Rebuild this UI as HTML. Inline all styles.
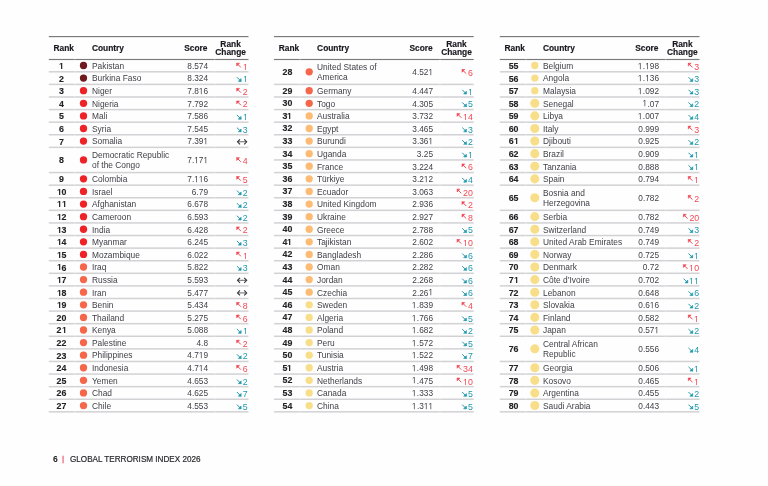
<!DOCTYPE html>
<html><head><meta charset="utf-8"><style>
*{margin:0;padding:0;box-sizing:border-box}
html,body{width:768px;height:486px;overflow:hidden;background:#fefefe}
body{position:relative;font-family:"Liberation Sans",sans-serif;filter:blur(0.35px)}
div,svg.ov{position:absolute}
svg.o1{display:inline-block;width:0.5562em;height:0.688em;vertical-align:baseline;overflow:visible}
.rule{}
.h{font-weight:bold;color:#18181f;white-space:nowrap;-webkit-text-stroke:0.15px #18181f}
.rk{font-weight:bold;color:#222226;white-space:nowrap;-webkit-text-stroke:0.12px #222226}
.t{color:#404048;white-space:nowrap}
.n{white-space:nowrap}
.ov{left:0;top:0}
.fn{font-weight:bold;color:#222;white-space:nowrap}
.ft{color:#2a2a2e;white-space:nowrap;font-weight:normal;-webkit-text-stroke:0.2px #2a2a2e}
</style></head><body>
<svg class="ov" width="768" height="486" viewBox="0 0 768 486"><rect x="48.8" y="36.02" width="199.7" height="1.15" fill="#787878"/><rect x="48.8" y="58.92" width="199.7" height="1.15" fill="#7a7a7a"/><rect x="48.8" y="71.05" width="199.7" height="1.5" fill="#d2d2d5"/><circle cx="83.5" cy="65.51" r="3.65" fill="#6e1b20"/><path d="M236.71 63.21 L240.91 67.41" stroke="#f24854" stroke-width="1" fill="none"/><path d="M239.51 63.21 L236.71 63.21 L236.71 66.01Z" stroke="#f24854" stroke-width="0.6" fill="#f24854" stroke-linejoin="miter"/><rect x="48.8" y="83.65" width="199.7" height="1.5" fill="#d2d2d5"/><circle cx="83.5" cy="78.1" r="3.65" fill="#6e1b20"/><path d="M236.91 77.2 L241.11 81.4" stroke="#1f98ad" stroke-width="1" fill="none"/><path d="M238.31 81.4 L241.11 81.4 L241.11 78.6Z" stroke="#1f98ad" stroke-width="0.6" fill="#1f98ad" stroke-linejoin="miter"/><rect x="48.8" y="96.24" width="199.7" height="1.5" fill="#d2d2d5"/><circle cx="83.5" cy="90.69" r="3.65" fill="#ee2227"/><path d="M236.71 88.39 L240.91 92.59" stroke="#f24854" stroke-width="1" fill="none"/><path d="M239.51 88.39 L236.71 88.39 L236.71 91.19Z" stroke="#f24854" stroke-width="0.6" fill="#f24854" stroke-linejoin="miter"/><rect x="48.8" y="108.84" width="199.7" height="1.5" fill="#d2d2d5"/><circle cx="83.5" cy="103.29" r="3.65" fill="#ee2227"/><path d="M236.71 100.99 L240.91 105.19" stroke="#f24854" stroke-width="1" fill="none"/><path d="M239.51 100.99 L236.71 100.99 L236.71 103.79Z" stroke="#f24854" stroke-width="0.6" fill="#f24854" stroke-linejoin="miter"/><rect x="48.8" y="121.43" width="199.7" height="1.5" fill="#d2d2d5"/><circle cx="83.5" cy="115.88" r="3.65" fill="#ee2227"/><path d="M236.91 114.98 L241.11 119.18" stroke="#1f98ad" stroke-width="1" fill="none"/><path d="M238.31 119.18 L241.11 119.18 L241.11 116.38Z" stroke="#1f98ad" stroke-width="0.6" fill="#1f98ad" stroke-linejoin="miter"/><rect x="48.8" y="134.02" width="199.7" height="1.5" fill="#d2d2d5"/><circle cx="83.5" cy="128.48" r="3.65" fill="#ee2227"/><path d="M236.91 127.58 L241.11 131.78" stroke="#1f98ad" stroke-width="1" fill="none"/><path d="M238.31 131.78 L241.11 131.78 L241.11 128.98Z" stroke="#1f98ad" stroke-width="0.6" fill="#1f98ad" stroke-linejoin="miter"/><rect x="48.8" y="146.62" width="199.7" height="1.5" fill="#d2d2d5"/><circle cx="83.5" cy="141.07" r="3.65" fill="#ee2227"/><path d="M237.9 141.77 H246.3" stroke="#55555c" stroke-width="0.9"/><path d="M240 139.27 L237.5 141.77 L240 144.27 M244.2 139.27 L246.7 141.77 L244.2 144.27" stroke="#2e2e36" stroke-width="1.05" fill="none"/><rect x="48.8" y="171.81" width="199.7" height="1.5" fill="#d2d2d5"/><circle cx="83.5" cy="159.96" r="3.65" fill="#ee2227"/><path d="M236.71 157.66 L240.91 161.86" stroke="#f24854" stroke-width="1" fill="none"/><path d="M239.51 157.66 L236.71 157.66 L236.71 160.46Z" stroke="#f24854" stroke-width="0.6" fill="#f24854" stroke-linejoin="miter"/><rect x="48.8" y="184.4" width="199.7" height="1.5" fill="#d2d2d5"/><circle cx="83.5" cy="178.85" r="3.65" fill="#ee2227"/><path d="M236.71 176.55 L240.91 180.75" stroke="#f24854" stroke-width="1" fill="none"/><path d="M239.51 176.55 L236.71 176.55 L236.71 179.35Z" stroke="#f24854" stroke-width="0.6" fill="#f24854" stroke-linejoin="miter"/><rect x="48.8" y="196.99" width="199.7" height="1.5" fill="#d2d2d5"/><circle cx="83.5" cy="191.45" r="3.65" fill="#ee2227"/><path d="M236.91 190.55 L241.11 194.75" stroke="#1f98ad" stroke-width="1" fill="none"/><path d="M238.31 194.75 L241.11 194.75 L241.11 191.95Z" stroke="#1f98ad" stroke-width="0.6" fill="#1f98ad" stroke-linejoin="miter"/><rect x="48.8" y="209.59" width="199.7" height="1.5" fill="#d2d2d5"/><circle cx="83.5" cy="204.04" r="3.65" fill="#ee2227"/><path d="M236.91 203.14 L241.11 207.34" stroke="#1f98ad" stroke-width="1" fill="none"/><path d="M238.31 207.34 L241.11 207.34 L241.11 204.54Z" stroke="#1f98ad" stroke-width="0.6" fill="#1f98ad" stroke-linejoin="miter"/><rect x="48.8" y="222.18" width="199.7" height="1.5" fill="#d2d2d5"/><circle cx="83.5" cy="216.63" r="3.65" fill="#ee2227"/><path d="M236.91 215.73 L241.11 219.93" stroke="#1f98ad" stroke-width="1" fill="none"/><path d="M238.31 219.93 L241.11 219.93 L241.11 217.13Z" stroke="#1f98ad" stroke-width="0.6" fill="#1f98ad" stroke-linejoin="miter"/><rect x="48.8" y="234.78" width="199.7" height="1.5" fill="#d2d2d5"/><circle cx="83.5" cy="229.23" r="3.65" fill="#ee2227"/><path d="M236.71 226.93 L240.91 231.13" stroke="#f24854" stroke-width="1" fill="none"/><path d="M239.51 226.93 L236.71 226.93 L236.71 229.73Z" stroke="#f24854" stroke-width="0.6" fill="#f24854" stroke-linejoin="miter"/><rect x="48.8" y="247.37" width="199.7" height="1.5" fill="#d2d2d5"/><circle cx="83.5" cy="241.82" r="3.65" fill="#ee2227"/><path d="M236.91 240.92 L241.11 245.12" stroke="#1f98ad" stroke-width="1" fill="none"/><path d="M238.31 245.12 L241.11 245.12 L241.11 242.32Z" stroke="#1f98ad" stroke-width="0.6" fill="#1f98ad" stroke-linejoin="miter"/><rect x="48.8" y="259.96" width="199.7" height="1.5" fill="#d2d2d5"/><circle cx="83.5" cy="254.42" r="3.65" fill="#ee2227"/><path d="M236.71 252.12 L240.91 256.32" stroke="#f24854" stroke-width="1" fill="none"/><path d="M239.51 252.12 L236.71 252.12 L236.71 254.92Z" stroke="#f24854" stroke-width="0.6" fill="#f24854" stroke-linejoin="miter"/><rect x="48.8" y="272.56" width="199.7" height="1.5" fill="#d2d2d5"/><circle cx="83.5" cy="267.01" r="3.65" fill="#f5664b"/><path d="M236.91 266.11 L241.11 270.31" stroke="#1f98ad" stroke-width="1" fill="none"/><path d="M238.31 270.31 L241.11 270.31 L241.11 267.51Z" stroke="#1f98ad" stroke-width="0.6" fill="#1f98ad" stroke-linejoin="miter"/><rect x="48.8" y="285.15" width="199.7" height="1.5" fill="#d2d2d5"/><circle cx="83.5" cy="279.6" r="3.65" fill="#f5664b"/><path d="M237.9 280.3 H246.3" stroke="#55555c" stroke-width="0.9"/><path d="M240 277.8 L237.5 280.3 L240 282.8 M244.2 277.8 L246.7 280.3 L244.2 282.8" stroke="#2e2e36" stroke-width="1.05" fill="none"/><rect x="48.8" y="297.75" width="199.7" height="1.5" fill="#d2d2d5"/><circle cx="83.5" cy="292.2" r="3.65" fill="#f5664b"/><path d="M237.9 292.9 H246.3" stroke="#55555c" stroke-width="0.9"/><path d="M240 290.4 L237.5 292.9 L240 295.4 M244.2 290.4 L246.7 292.9 L244.2 295.4" stroke="#2e2e36" stroke-width="1.05" fill="none"/><rect x="48.8" y="310.34" width="199.7" height="1.5" fill="#d2d2d5"/><circle cx="83.5" cy="304.79" r="3.65" fill="#f5664b"/><path d="M236.71 302.49 L240.91 306.69" stroke="#f24854" stroke-width="1" fill="none"/><path d="M239.51 302.49 L236.71 302.49 L236.71 305.29Z" stroke="#f24854" stroke-width="0.6" fill="#f24854" stroke-linejoin="miter"/><rect x="48.8" y="322.93" width="199.7" height="1.5" fill="#d2d2d5"/><circle cx="83.5" cy="317.39" r="3.65" fill="#f5664b"/><path d="M236.71 315.09 L240.91 319.29" stroke="#f24854" stroke-width="1" fill="none"/><path d="M239.51 315.09 L236.71 315.09 L236.71 317.89Z" stroke="#f24854" stroke-width="0.6" fill="#f24854" stroke-linejoin="miter"/><rect x="48.8" y="335.53" width="199.7" height="1.5" fill="#d2d2d5"/><circle cx="83.5" cy="329.98" r="3.65" fill="#f5664b"/><path d="M236.91 329.08 L241.11 333.28" stroke="#1f98ad" stroke-width="1" fill="none"/><path d="M238.31 333.28 L241.11 333.28 L241.11 330.48Z" stroke="#1f98ad" stroke-width="0.6" fill="#1f98ad" stroke-linejoin="miter"/><rect x="48.8" y="348.12" width="199.7" height="1.5" fill="#d2d2d5"/><circle cx="83.5" cy="342.57" r="3.65" fill="#f5664b"/><path d="M236.71 340.27 L240.91 344.47" stroke="#f24854" stroke-width="1" fill="none"/><path d="M239.51 340.27 L236.71 340.27 L236.71 343.07Z" stroke="#f24854" stroke-width="0.6" fill="#f24854" stroke-linejoin="miter"/><rect x="48.8" y="360.72" width="199.7" height="1.5" fill="#d2d2d5"/><circle cx="83.5" cy="355.17" r="3.65" fill="#f5664b"/><path d="M236.91 354.27 L241.11 358.47" stroke="#1f98ad" stroke-width="1" fill="none"/><path d="M238.31 358.47 L241.11 358.47 L241.11 355.67Z" stroke="#1f98ad" stroke-width="0.6" fill="#1f98ad" stroke-linejoin="miter"/><rect x="48.8" y="373.31" width="199.7" height="1.5" fill="#d2d2d5"/><circle cx="83.5" cy="367.76" r="3.65" fill="#f5664b"/><path d="M236.71 365.46 L240.91 369.66" stroke="#f24854" stroke-width="1" fill="none"/><path d="M239.51 365.46 L236.71 365.46 L236.71 368.26Z" stroke="#f24854" stroke-width="0.6" fill="#f24854" stroke-linejoin="miter"/><rect x="48.8" y="385.9" width="199.7" height="1.5" fill="#d2d2d5"/><circle cx="83.5" cy="380.36" r="3.65" fill="#f5664b"/><path d="M236.91 379.46 L241.11 383.66" stroke="#1f98ad" stroke-width="1" fill="none"/><path d="M238.31 383.66 L241.11 383.66 L241.11 380.86Z" stroke="#1f98ad" stroke-width="0.6" fill="#1f98ad" stroke-linejoin="miter"/><rect x="48.8" y="398.5" width="199.7" height="1.5" fill="#d2d2d5"/><circle cx="83.5" cy="392.95" r="3.65" fill="#f5664b"/><path d="M236.91 392.05 L241.11 396.25" stroke="#1f98ad" stroke-width="1" fill="none"/><path d="M238.31 396.25 L241.11 396.25 L241.11 393.45Z" stroke="#1f98ad" stroke-width="0.6" fill="#1f98ad" stroke-linejoin="miter"/><rect x="48.8" y="411.09" width="199.7" height="1.5" fill="#d2d2d5"/><circle cx="83.5" cy="405.54" r="3.65" fill="#f5664b"/><path d="M236.91 404.64 L241.11 408.84" stroke="#1f98ad" stroke-width="1" fill="none"/><path d="M238.31 408.84 L241.11 408.84 L241.11 406.04Z" stroke="#1f98ad" stroke-width="0.6" fill="#1f98ad" stroke-linejoin="miter"/><rect x="74.55" y="58.5" width="0.7" height="354.34" fill="#fff" opacity="0.55"/><rect x="214.45" y="58.5" width="0.7" height="354.34" fill="#fff" opacity="0.55"/><rect x="274" y="36.02" width="199.7" height="1.15" fill="#787878"/><rect x="274" y="58.92" width="199.7" height="1.15" fill="#7a7a7a"/><rect x="274" y="83.65" width="199.7" height="1.5" fill="#d2d2d5"/><circle cx="309.2" cy="71.8" r="3.65" fill="#f5664b"/><path d="M462.01 69.5 L466.21 73.7" stroke="#f24854" stroke-width="1" fill="none"/><path d="M464.81 69.5 L462.01 69.5 L462.01 72.3Z" stroke="#f24854" stroke-width="0.6" fill="#f24854" stroke-linejoin="miter"/><rect x="274" y="96.24" width="199.7" height="1.5" fill="#d2d2d5"/><circle cx="309.2" cy="90.69" r="3.65" fill="#f5664b"/><path d="M462.21 89.79 L466.41 93.99" stroke="#1f98ad" stroke-width="1" fill="none"/><path d="M463.61 93.99 L466.41 93.99 L466.41 91.19Z" stroke="#1f98ad" stroke-width="0.6" fill="#1f98ad" stroke-linejoin="miter"/><rect x="274" y="108.84" width="199.7" height="1.5" fill="#d2d2d5"/><circle cx="309.2" cy="103.29" r="3.65" fill="#f5664b"/><path d="M462.21 102.39 L466.41 106.59" stroke="#1f98ad" stroke-width="1" fill="none"/><path d="M463.61 106.59 L466.41 106.59 L466.41 103.79Z" stroke="#1f98ad" stroke-width="0.6" fill="#1f98ad" stroke-linejoin="miter"/><rect x="274" y="121.43" width="199.7" height="1.5" fill="#d2d2d5"/><circle cx="309.2" cy="115.88" r="3.65" fill="#fdbb74"/><path d="M457.11 113.58 L461.31 117.78" stroke="#f24854" stroke-width="1" fill="none"/><path d="M459.91 113.58 L457.11 113.58 L457.11 116.38Z" stroke="#f24854" stroke-width="0.6" fill="#f24854" stroke-linejoin="miter"/><rect x="274" y="134.02" width="199.7" height="1.5" fill="#d2d2d5"/><circle cx="309.2" cy="128.48" r="3.65" fill="#fdbb74"/><path d="M462.21 127.58 L466.41 131.78" stroke="#1f98ad" stroke-width="1" fill="none"/><path d="M463.61 131.78 L466.41 131.78 L466.41 128.98Z" stroke="#1f98ad" stroke-width="0.6" fill="#1f98ad" stroke-linejoin="miter"/><rect x="274" y="146.62" width="199.7" height="1.5" fill="#d2d2d5"/><circle cx="309.2" cy="141.07" r="3.65" fill="#fdbb74"/><path d="M462.21 140.17 L466.41 144.37" stroke="#1f98ad" stroke-width="1" fill="none"/><path d="M463.61 144.37 L466.41 144.37 L466.41 141.57Z" stroke="#1f98ad" stroke-width="0.6" fill="#1f98ad" stroke-linejoin="miter"/><rect x="274" y="159.21" width="199.7" height="1.5" fill="#d2d2d5"/><circle cx="309.2" cy="153.66" r="3.65" fill="#fdbb74"/><path d="M462.21 152.76 L466.41 156.96" stroke="#1f98ad" stroke-width="1" fill="none"/><path d="M463.61 156.96 L466.41 156.96 L466.41 154.16Z" stroke="#1f98ad" stroke-width="0.6" fill="#1f98ad" stroke-linejoin="miter"/><rect x="274" y="171.81" width="199.7" height="1.5" fill="#d2d2d5"/><circle cx="309.2" cy="166.26" r="3.65" fill="#fdbb74"/><path d="M462.01 163.96 L466.21 168.16" stroke="#f24854" stroke-width="1" fill="none"/><path d="M464.81 163.96 L462.01 163.96 L462.01 166.76Z" stroke="#f24854" stroke-width="0.6" fill="#f24854" stroke-linejoin="miter"/><rect x="274" y="184.4" width="199.7" height="1.5" fill="#d2d2d5"/><circle cx="309.2" cy="178.85" r="3.65" fill="#fdbb74"/><path d="M462.21 177.95 L466.41 182.15" stroke="#1f98ad" stroke-width="1" fill="none"/><path d="M463.61 182.15 L466.41 182.15 L466.41 179.35Z" stroke="#1f98ad" stroke-width="0.6" fill="#1f98ad" stroke-linejoin="miter"/><rect x="274" y="196.99" width="199.7" height="1.5" fill="#d2d2d5"/><circle cx="309.2" cy="191.45" r="3.65" fill="#fdbb74"/><path d="M457.11 189.15 L461.31 193.35" stroke="#f24854" stroke-width="1" fill="none"/><path d="M459.91 189.15 L457.11 189.15 L457.11 191.95Z" stroke="#f24854" stroke-width="0.6" fill="#f24854" stroke-linejoin="miter"/><rect x="274" y="209.59" width="199.7" height="1.5" fill="#d2d2d5"/><circle cx="309.2" cy="204.04" r="3.65" fill="#fdbb74"/><path d="M462.01 201.74 L466.21 205.94" stroke="#f24854" stroke-width="1" fill="none"/><path d="M464.81 201.74 L462.01 201.74 L462.01 204.54Z" stroke="#f24854" stroke-width="0.6" fill="#f24854" stroke-linejoin="miter"/><rect x="274" y="222.18" width="199.7" height="1.5" fill="#d2d2d5"/><circle cx="309.2" cy="216.63" r="3.65" fill="#fdbb74"/><path d="M462.01 214.33 L466.21 218.53" stroke="#f24854" stroke-width="1" fill="none"/><path d="M464.81 214.33 L462.01 214.33 L462.01 217.13Z" stroke="#f24854" stroke-width="0.6" fill="#f24854" stroke-linejoin="miter"/><rect x="274" y="234.78" width="199.7" height="1.5" fill="#d2d2d5"/><circle cx="309.2" cy="229.23" r="3.65" fill="#fdbb74"/><path d="M462.21 228.33 L466.41 232.53" stroke="#1f98ad" stroke-width="1" fill="none"/><path d="M463.61 232.53 L466.41 232.53 L466.41 229.73Z" stroke="#1f98ad" stroke-width="0.6" fill="#1f98ad" stroke-linejoin="miter"/><rect x="274" y="247.37" width="199.7" height="1.5" fill="#d2d2d5"/><circle cx="309.2" cy="241.82" r="3.65" fill="#fdbb74"/><path d="M457.11 239.52 L461.31 243.72" stroke="#f24854" stroke-width="1" fill="none"/><path d="M459.91 239.52 L457.11 239.52 L457.11 242.32Z" stroke="#f24854" stroke-width="0.6" fill="#f24854" stroke-linejoin="miter"/><rect x="274" y="259.96" width="199.7" height="1.5" fill="#d2d2d5"/><circle cx="309.2" cy="254.42" r="3.65" fill="#fdbb74"/><path d="M462.21 253.52 L466.41 257.72" stroke="#1f98ad" stroke-width="1" fill="none"/><path d="M463.61 257.72 L466.41 257.72 L466.41 254.92Z" stroke="#1f98ad" stroke-width="0.6" fill="#1f98ad" stroke-linejoin="miter"/><rect x="274" y="272.56" width="199.7" height="1.5" fill="#d2d2d5"/><circle cx="309.2" cy="267.01" r="3.65" fill="#fdbb74"/><path d="M462.21 266.11 L466.41 270.31" stroke="#1f98ad" stroke-width="1" fill="none"/><path d="M463.61 270.31 L466.41 270.31 L466.41 267.51Z" stroke="#1f98ad" stroke-width="0.6" fill="#1f98ad" stroke-linejoin="miter"/><rect x="274" y="285.15" width="199.7" height="1.5" fill="#d2d2d5"/><circle cx="309.2" cy="279.6" r="3.65" fill="#fdbb74"/><path d="M462.21 278.7 L466.41 282.9" stroke="#1f98ad" stroke-width="1" fill="none"/><path d="M463.61 282.9 L466.41 282.9 L466.41 280.1Z" stroke="#1f98ad" stroke-width="0.6" fill="#1f98ad" stroke-linejoin="miter"/><rect x="274" y="297.75" width="199.7" height="1.5" fill="#d2d2d5"/><circle cx="309.2" cy="292.2" r="3.65" fill="#fdbb74"/><path d="M462.21 291.3 L466.41 295.5" stroke="#1f98ad" stroke-width="1" fill="none"/><path d="M463.61 295.5 L466.41 295.5 L466.41 292.7Z" stroke="#1f98ad" stroke-width="0.6" fill="#1f98ad" stroke-linejoin="miter"/><rect x="274" y="310.34" width="199.7" height="1.5" fill="#d2d2d5"/><circle cx="309.2" cy="304.79" r="3.65" fill="#f9de8a"/><path d="M462.01 302.49 L466.21 306.69" stroke="#f24854" stroke-width="1" fill="none"/><path d="M464.81 302.49 L462.01 302.49 L462.01 305.29Z" stroke="#f24854" stroke-width="0.6" fill="#f24854" stroke-linejoin="miter"/><rect x="274" y="322.93" width="199.7" height="1.5" fill="#d2d2d5"/><circle cx="309.2" cy="317.39" r="3.65" fill="#f9de8a"/><path d="M462.21 316.49 L466.41 320.69" stroke="#1f98ad" stroke-width="1" fill="none"/><path d="M463.61 320.69 L466.41 320.69 L466.41 317.89Z" stroke="#1f98ad" stroke-width="0.6" fill="#1f98ad" stroke-linejoin="miter"/><rect x="274" y="335.53" width="199.7" height="1.5" fill="#d2d2d5"/><circle cx="309.2" cy="329.98" r="3.65" fill="#f9de8a"/><path d="M462.21 329.08 L466.41 333.28" stroke="#1f98ad" stroke-width="1" fill="none"/><path d="M463.61 333.28 L466.41 333.28 L466.41 330.48Z" stroke="#1f98ad" stroke-width="0.6" fill="#1f98ad" stroke-linejoin="miter"/><rect x="274" y="348.12" width="199.7" height="1.5" fill="#d2d2d5"/><circle cx="309.2" cy="342.57" r="3.65" fill="#f9de8a"/><path d="M462.21 341.67 L466.41 345.87" stroke="#1f98ad" stroke-width="1" fill="none"/><path d="M463.61 345.87 L466.41 345.87 L466.41 343.07Z" stroke="#1f98ad" stroke-width="0.6" fill="#1f98ad" stroke-linejoin="miter"/><rect x="274" y="360.72" width="199.7" height="1.5" fill="#d2d2d5"/><circle cx="309.2" cy="355.17" r="3.65" fill="#f9de8a"/><path d="M462.21 354.27 L466.41 358.47" stroke="#1f98ad" stroke-width="1" fill="none"/><path d="M463.61 358.47 L466.41 358.47 L466.41 355.67Z" stroke="#1f98ad" stroke-width="0.6" fill="#1f98ad" stroke-linejoin="miter"/><rect x="274" y="373.31" width="199.7" height="1.5" fill="#d2d2d5"/><circle cx="309.2" cy="367.76" r="3.65" fill="#f9de8a"/><path d="M457.11 365.46 L461.31 369.66" stroke="#f24854" stroke-width="1" fill="none"/><path d="M459.91 365.46 L457.11 365.46 L457.11 368.26Z" stroke="#f24854" stroke-width="0.6" fill="#f24854" stroke-linejoin="miter"/><rect x="274" y="385.9" width="199.7" height="1.5" fill="#d2d2d5"/><circle cx="309.2" cy="380.36" r="3.65" fill="#f9de8a"/><path d="M457.11 378.06 L461.31 382.26" stroke="#f24854" stroke-width="1" fill="none"/><path d="M459.91 378.06 L457.11 378.06 L457.11 380.86Z" stroke="#f24854" stroke-width="0.6" fill="#f24854" stroke-linejoin="miter"/><rect x="274" y="398.5" width="199.7" height="1.5" fill="#d2d2d5"/><circle cx="309.2" cy="392.95" r="3.65" fill="#f9de8a"/><path d="M462.21 392.05 L466.41 396.25" stroke="#1f98ad" stroke-width="1" fill="none"/><path d="M463.61 396.25 L466.41 396.25 L466.41 393.45Z" stroke="#1f98ad" stroke-width="0.6" fill="#1f98ad" stroke-linejoin="miter"/><rect x="274" y="411.09" width="199.7" height="1.5" fill="#d2d2d5"/><circle cx="309.2" cy="405.54" r="3.65" fill="#f9de8a"/><path d="M462.21 404.64 L466.41 408.84" stroke="#1f98ad" stroke-width="1" fill="none"/><path d="M463.61 408.84 L466.41 408.84 L466.41 406.04Z" stroke="#1f98ad" stroke-width="0.6" fill="#1f98ad" stroke-linejoin="miter"/><rect x="299.75" y="58.5" width="0.7" height="354.34" fill="#fff" opacity="0.55"/><rect x="439.65" y="58.5" width="0.7" height="354.34" fill="#fff" opacity="0.55"/><rect x="499.8" y="36.02" width="199.7" height="1.15" fill="#787878"/><rect x="499.8" y="58.92" width="199.7" height="1.15" fill="#7a7a7a"/><rect x="499.8" y="71.05" width="199.7" height="1.5" fill="#d2d2d5"/><circle cx="534.8" cy="65.51" r="3.65" fill="#f9de8a"/><path d="M688.31 63.21 L692.51 67.41" stroke="#f24854" stroke-width="1" fill="none"/><path d="M691.11 63.21 L688.31 63.21 L688.31 66.01Z" stroke="#f24854" stroke-width="0.6" fill="#f24854" stroke-linejoin="miter"/><rect x="499.8" y="83.65" width="199.7" height="1.5" fill="#d2d2d5"/><circle cx="534.8" cy="78.1" r="3.65" fill="#f9de8a"/><path d="M688.51 77.2 L692.71 81.4" stroke="#1f98ad" stroke-width="1" fill="none"/><path d="M689.91 81.4 L692.71 81.4 L692.71 78.6Z" stroke="#1f98ad" stroke-width="0.6" fill="#1f98ad" stroke-linejoin="miter"/><rect x="499.8" y="96.24" width="199.7" height="1.5" fill="#d2d2d5"/><circle cx="534.8" cy="90.69" r="3.65" fill="#f9de8a"/><path d="M688.51 89.79 L692.71 93.99" stroke="#1f98ad" stroke-width="1" fill="none"/><path d="M689.91 93.99 L692.71 93.99 L692.71 91.19Z" stroke="#1f98ad" stroke-width="0.6" fill="#1f98ad" stroke-linejoin="miter"/><rect x="499.8" y="108.84" width="199.7" height="1.5" fill="#d2d2d5"/><circle cx="534.8" cy="103.29" r="4.55" fill="#f9de8a"/><path d="M688.51 102.39 L692.71 106.59" stroke="#1f98ad" stroke-width="1" fill="none"/><path d="M689.91 106.59 L692.71 106.59 L692.71 103.79Z" stroke="#1f98ad" stroke-width="0.6" fill="#1f98ad" stroke-linejoin="miter"/><rect x="499.8" y="121.43" width="199.7" height="1.5" fill="#d2d2d5"/><circle cx="534.8" cy="115.88" r="4.55" fill="#f9de8a"/><path d="M688.51 114.98 L692.71 119.18" stroke="#1f98ad" stroke-width="1" fill="none"/><path d="M689.91 119.18 L692.71 119.18 L692.71 116.38Z" stroke="#1f98ad" stroke-width="0.6" fill="#1f98ad" stroke-linejoin="miter"/><rect x="499.8" y="134.02" width="199.7" height="1.5" fill="#d2d2d5"/><circle cx="534.8" cy="128.48" r="4.55" fill="#f9de8a"/><path d="M688.31 126.18 L692.51 130.38" stroke="#f24854" stroke-width="1" fill="none"/><path d="M691.11 126.18 L688.31 126.18 L688.31 128.98Z" stroke="#f24854" stroke-width="0.6" fill="#f24854" stroke-linejoin="miter"/><rect x="499.8" y="146.62" width="199.7" height="1.5" fill="#d2d2d5"/><circle cx="534.8" cy="141.07" r="4.55" fill="#f9de8a"/><path d="M688.51 140.17 L692.71 144.37" stroke="#1f98ad" stroke-width="1" fill="none"/><path d="M689.91 144.37 L692.71 144.37 L692.71 141.57Z" stroke="#1f98ad" stroke-width="0.6" fill="#1f98ad" stroke-linejoin="miter"/><rect x="499.8" y="159.21" width="199.7" height="1.5" fill="#d2d2d5"/><circle cx="534.8" cy="153.66" r="4.55" fill="#f9de8a"/><path d="M688.51 152.76 L692.71 156.96" stroke="#1f98ad" stroke-width="1" fill="none"/><path d="M689.91 156.96 L692.71 156.96 L692.71 154.16Z" stroke="#1f98ad" stroke-width="0.6" fill="#1f98ad" stroke-linejoin="miter"/><rect x="499.8" y="171.81" width="199.7" height="1.5" fill="#d2d2d5"/><circle cx="534.8" cy="166.26" r="4.55" fill="#f9de8a"/><path d="M688.51 165.36 L692.71 169.56" stroke="#1f98ad" stroke-width="1" fill="none"/><path d="M689.91 169.56 L692.71 169.56 L692.71 166.76Z" stroke="#1f98ad" stroke-width="0.6" fill="#1f98ad" stroke-linejoin="miter"/><rect x="499.8" y="184.4" width="199.7" height="1.5" fill="#d2d2d5"/><circle cx="534.8" cy="178.85" r="4.55" fill="#f9de8a"/><path d="M688.31 176.55 L692.51 180.75" stroke="#f24854" stroke-width="1" fill="none"/><path d="M691.11 176.55 L688.31 176.55 L688.31 179.35Z" stroke="#f24854" stroke-width="0.6" fill="#f24854" stroke-linejoin="miter"/><rect x="499.8" y="209.59" width="199.7" height="1.5" fill="#d2d2d5"/><circle cx="534.8" cy="197.74" r="4.55" fill="#f9de8a"/><path d="M688.31 195.44 L692.51 199.64" stroke="#f24854" stroke-width="1" fill="none"/><path d="M691.11 195.44 L688.31 195.44 L688.31 198.24Z" stroke="#f24854" stroke-width="0.6" fill="#f24854" stroke-linejoin="miter"/><rect x="499.8" y="222.18" width="199.7" height="1.5" fill="#d2d2d5"/><circle cx="534.8" cy="216.63" r="4.55" fill="#f9de8a"/><path d="M683.41 214.33 L687.61 218.53" stroke="#f24854" stroke-width="1" fill="none"/><path d="M686.21 214.33 L683.41 214.33 L683.41 217.13Z" stroke="#f24854" stroke-width="0.6" fill="#f24854" stroke-linejoin="miter"/><rect x="499.8" y="234.78" width="199.7" height="1.5" fill="#d2d2d5"/><circle cx="534.8" cy="229.23" r="4.55" fill="#f9de8a"/><path d="M688.51 228.33 L692.71 232.53" stroke="#1f98ad" stroke-width="1" fill="none"/><path d="M689.91 232.53 L692.71 232.53 L692.71 229.73Z" stroke="#1f98ad" stroke-width="0.6" fill="#1f98ad" stroke-linejoin="miter"/><rect x="499.8" y="247.37" width="199.7" height="1.5" fill="#d2d2d5"/><circle cx="534.8" cy="241.82" r="4.55" fill="#f9de8a"/><path d="M688.31 239.52 L692.51 243.72" stroke="#f24854" stroke-width="1" fill="none"/><path d="M691.11 239.52 L688.31 239.52 L688.31 242.32Z" stroke="#f24854" stroke-width="0.6" fill="#f24854" stroke-linejoin="miter"/><rect x="499.8" y="259.96" width="199.7" height="1.5" fill="#d2d2d5"/><circle cx="534.8" cy="254.42" r="4.55" fill="#f9de8a"/><path d="M688.51 253.52 L692.71 257.72" stroke="#1f98ad" stroke-width="1" fill="none"/><path d="M689.91 257.72 L692.71 257.72 L692.71 254.92Z" stroke="#1f98ad" stroke-width="0.6" fill="#1f98ad" stroke-linejoin="miter"/><rect x="499.8" y="272.56" width="199.7" height="1.5" fill="#d2d2d5"/><circle cx="534.8" cy="267.01" r="4.55" fill="#f9de8a"/><path d="M683.41 264.71 L687.61 268.91" stroke="#f24854" stroke-width="1" fill="none"/><path d="M686.21 264.71 L683.41 264.71 L683.41 267.51Z" stroke="#f24854" stroke-width="0.6" fill="#f24854" stroke-linejoin="miter"/><rect x="499.8" y="285.15" width="199.7" height="1.5" fill="#d2d2d5"/><circle cx="534.8" cy="279.6" r="4.55" fill="#f9de8a"/><path d="M683.61 278.7 L687.81 282.9" stroke="#1f98ad" stroke-width="1" fill="none"/><path d="M685.01 282.9 L687.81 282.9 L687.81 280.1Z" stroke="#1f98ad" stroke-width="0.6" fill="#1f98ad" stroke-linejoin="miter"/><rect x="499.8" y="297.75" width="199.7" height="1.5" fill="#d2d2d5"/><circle cx="534.8" cy="292.2" r="4.55" fill="#f9de8a"/><path d="M688.51 291.3 L692.71 295.5" stroke="#1f98ad" stroke-width="1" fill="none"/><path d="M689.91 295.5 L692.71 295.5 L692.71 292.7Z" stroke="#1f98ad" stroke-width="0.6" fill="#1f98ad" stroke-linejoin="miter"/><rect x="499.8" y="310.34" width="199.7" height="1.5" fill="#d2d2d5"/><circle cx="534.8" cy="304.79" r="4.55" fill="#f9de8a"/><path d="M688.51 303.89 L692.71 308.09" stroke="#1f98ad" stroke-width="1" fill="none"/><path d="M689.91 308.09 L692.71 308.09 L692.71 305.29Z" stroke="#1f98ad" stroke-width="0.6" fill="#1f98ad" stroke-linejoin="miter"/><rect x="499.8" y="322.93" width="199.7" height="1.5" fill="#d2d2d5"/><circle cx="534.8" cy="317.39" r="4.55" fill="#f9de8a"/><path d="M688.31 315.09 L692.51 319.29" stroke="#f24854" stroke-width="1" fill="none"/><path d="M691.11 315.09 L688.31 315.09 L688.31 317.89Z" stroke="#f24854" stroke-width="0.6" fill="#f24854" stroke-linejoin="miter"/><rect x="499.8" y="335.53" width="199.7" height="1.5" fill="#d2d2d5"/><circle cx="534.8" cy="329.98" r="4.55" fill="#f9de8a"/><path d="M688.51 329.08 L692.71 333.28" stroke="#1f98ad" stroke-width="1" fill="none"/><path d="M689.91 333.28 L692.71 333.28 L692.71 330.48Z" stroke="#1f98ad" stroke-width="0.6" fill="#1f98ad" stroke-linejoin="miter"/><rect x="499.8" y="360.72" width="199.7" height="1.5" fill="#d2d2d5"/><circle cx="534.8" cy="348.87" r="4.55" fill="#f9de8a"/><path d="M688.51 347.97 L692.71 352.17" stroke="#1f98ad" stroke-width="1" fill="none"/><path d="M689.91 352.17 L692.71 352.17 L692.71 349.37Z" stroke="#1f98ad" stroke-width="0.6" fill="#1f98ad" stroke-linejoin="miter"/><rect x="499.8" y="373.31" width="199.7" height="1.5" fill="#d2d2d5"/><circle cx="534.8" cy="367.76" r="4.55" fill="#f9de8a"/><path d="M688.51 366.86 L692.71 371.06" stroke="#1f98ad" stroke-width="1" fill="none"/><path d="M689.91 371.06 L692.71 371.06 L692.71 368.26Z" stroke="#1f98ad" stroke-width="0.6" fill="#1f98ad" stroke-linejoin="miter"/><rect x="499.8" y="385.9" width="199.7" height="1.5" fill="#d2d2d5"/><circle cx="534.8" cy="380.36" r="4.55" fill="#f9de8a"/><path d="M688.31 378.06 L692.51 382.26" stroke="#f24854" stroke-width="1" fill="none"/><path d="M691.11 378.06 L688.31 378.06 L688.31 380.86Z" stroke="#f24854" stroke-width="0.6" fill="#f24854" stroke-linejoin="miter"/><rect x="499.8" y="398.5" width="199.7" height="1.5" fill="#d2d2d5"/><circle cx="534.8" cy="392.95" r="4.55" fill="#f9de8a"/><path d="M688.51 392.05 L692.71 396.25" stroke="#1f98ad" stroke-width="1" fill="none"/><path d="M689.91 396.25 L692.71 396.25 L692.71 393.45Z" stroke="#1f98ad" stroke-width="0.6" fill="#1f98ad" stroke-linejoin="miter"/><rect x="499.8" y="411.09" width="199.7" height="1.5" fill="#d2d2d5"/><circle cx="534.8" cy="405.54" r="4.55" fill="#f9de8a"/><path d="M688.51 404.64 L692.71 408.84" stroke="#1f98ad" stroke-width="1" fill="none"/><path d="M689.91 408.84 L692.71 408.84 L692.71 406.04Z" stroke="#1f98ad" stroke-width="0.6" fill="#1f98ad" stroke-linejoin="miter"/><rect x="525.55" y="58.5" width="0.7" height="354.34" fill="#fff" opacity="0.55"/><rect x="665.45" y="58.5" width="0.7" height="354.34" fill="#fff" opacity="0.55"/><rect x="62.6" y="455.7" width="0.9" height="7.6" fill="#e8304a"/></svg>
<div class="h" style="left:43.8px;width:40px;text-align:center;top:43.89px;font-size:8.4px;line-height:8.4px">Rank</div>
<div class="h" style="left:91.9px;top:43.89px;font-size:8.4px;line-height:8.4px">Country</div>
<div class="h" style="left:167.5px;width:40px;text-align:right;top:43.89px;font-size:8.4px;line-height:8.4px">Score</div>
<div class="h" style="left:210.6px;width:40px;text-align:center;top:40.09px;font-size:8.4px;line-height:8.4px">Rank</div>
<div class="h" style="left:210.6px;width:40px;text-align:center;top:47.79px;font-size:8.4px;line-height:8.4px">Change</div>
<div class="rk" style="left:46.5px;width:30px;text-align:center;top:62.01px;font-size:8.8px;line-height:8.8px"><svg class="o1" viewBox="0 0 1139 1409" preserveAspectRatio="none"><path transform="matrix(1 0 0 -1 0 1409)" d="M478 0V1170L140 959V1180L493 1409H759V0Z" fill="currentColor"/></svg></div>
<div class="t" style="left:91.9px;top:61.81px;font-size:9px;line-height:9px;transform:scaleX(0.93);transform-origin:0 0">Pakistan</div>
<div class="t" style="left:167.5px;width:40px;text-align:right;top:61.81px;font-size:9px;line-height:9px;transform:scaleX(0.92);transform-origin:100% 0">8.574</div>
<div class="n" style="left:217.6px;width:30px;text-align:right;top:62.71px;font-size:8.8px;line-height:8.8px;color:#f24854"><svg class="o1" viewBox="0 0 1139 1409" preserveAspectRatio="none"><path transform="matrix(1 0 0 -1 0 1409)" d="M515 0V1237L197 1010V1180L530 1409H696V0Z" fill="currentColor"/></svg></div>
<div class="rk" style="left:46.5px;width:30px;text-align:center;top:74.6px;font-size:8.8px;line-height:8.8px">2</div>
<div class="t" style="left:91.9px;top:74.4px;font-size:9px;line-height:9px;transform:scaleX(0.93);transform-origin:0 0">Burkina Faso</div>
<div class="t" style="left:167.5px;width:40px;text-align:right;top:74.4px;font-size:9px;line-height:9px;transform:scaleX(0.92);transform-origin:100% 0">8.324</div>
<div class="n" style="left:217.6px;width:30px;text-align:right;top:75.3px;font-size:8.8px;line-height:8.8px;color:#1f98ad"><svg class="o1" viewBox="0 0 1139 1409" preserveAspectRatio="none"><path transform="matrix(1 0 0 -1 0 1409)" d="M515 0V1237L197 1010V1180L530 1409H696V0Z" fill="currentColor"/></svg></div>
<div class="rk" style="left:46.5px;width:30px;text-align:center;top:87.19px;font-size:8.8px;line-height:8.8px">3</div>
<div class="t" style="left:91.9px;top:86.99px;font-size:9px;line-height:9px;transform:scaleX(0.93);transform-origin:0 0">Niger</div>
<div class="t" style="left:167.5px;width:40px;text-align:right;top:86.99px;font-size:9px;line-height:9px;transform:scaleX(0.92);transform-origin:100% 0">7.8<svg class="o1" viewBox="0 0 1139 1409" preserveAspectRatio="none"><path transform="matrix(1 0 0 -1 0 1409)" d="M515 0V1237L197 1010V1180L530 1409H696V0Z" fill="currentColor"/></svg>6</div>
<div class="n" style="left:217.6px;width:30px;text-align:right;top:87.89px;font-size:8.8px;line-height:8.8px;color:#f24854">2</div>
<div class="rk" style="left:46.5px;width:30px;text-align:center;top:99.79px;font-size:8.8px;line-height:8.8px">4</div>
<div class="t" style="left:91.9px;top:99.59px;font-size:9px;line-height:9px;transform:scaleX(0.93);transform-origin:0 0">Nigeria</div>
<div class="t" style="left:167.5px;width:40px;text-align:right;top:99.59px;font-size:9px;line-height:9px;transform:scaleX(0.92);transform-origin:100% 0">7.792</div>
<div class="n" style="left:217.6px;width:30px;text-align:right;top:100.49px;font-size:8.8px;line-height:8.8px;color:#f24854">2</div>
<div class="rk" style="left:46.5px;width:30px;text-align:center;top:112.38px;font-size:8.8px;line-height:8.8px">5</div>
<div class="t" style="left:91.9px;top:112.18px;font-size:9px;line-height:9px;transform:scaleX(0.93);transform-origin:0 0">Mali</div>
<div class="t" style="left:167.5px;width:40px;text-align:right;top:112.18px;font-size:9px;line-height:9px;transform:scaleX(0.92);transform-origin:100% 0">7.586</div>
<div class="n" style="left:217.6px;width:30px;text-align:right;top:113.08px;font-size:8.8px;line-height:8.8px;color:#1f98ad"><svg class="o1" viewBox="0 0 1139 1409" preserveAspectRatio="none"><path transform="matrix(1 0 0 -1 0 1409)" d="M515 0V1237L197 1010V1180L530 1409H696V0Z" fill="currentColor"/></svg></div>
<div class="rk" style="left:46.5px;width:30px;text-align:center;top:124.98px;font-size:8.8px;line-height:8.8px">6</div>
<div class="t" style="left:91.9px;top:124.78px;font-size:9px;line-height:9px;transform:scaleX(0.93);transform-origin:0 0">Syria</div>
<div class="t" style="left:167.5px;width:40px;text-align:right;top:124.78px;font-size:9px;line-height:9px;transform:scaleX(0.92);transform-origin:100% 0">7.545</div>
<div class="n" style="left:217.6px;width:30px;text-align:right;top:125.68px;font-size:8.8px;line-height:8.8px;color:#1f98ad">3</div>
<div class="rk" style="left:46.5px;width:30px;text-align:center;top:137.57px;font-size:8.8px;line-height:8.8px">7</div>
<div class="t" style="left:91.9px;top:137.37px;font-size:9px;line-height:9px;transform:scaleX(0.93);transform-origin:0 0">Somalia</div>
<div class="t" style="left:167.5px;width:40px;text-align:right;top:137.37px;font-size:9px;line-height:9px;transform:scaleX(0.92);transform-origin:100% 0">7.39<svg class="o1" viewBox="0 0 1139 1409" preserveAspectRatio="none"><path transform="matrix(1 0 0 -1 0 1409)" d="M515 0V1237L197 1010V1180L530 1409H696V0Z" fill="currentColor"/></svg></div>
<div class="rk" style="left:46.5px;width:30px;text-align:center;top:156.46px;font-size:8.8px;line-height:8.8px">8</div>
<div class="t" style="left:91.9px;top:151.06px;font-size:9px;line-height:9px;transform:scaleX(0.93);transform-origin:0 0">Democratic Republic</div>
<div class="t" style="left:91.9px;top:161.46px;font-size:9px;line-height:9px;transform:scaleX(0.93);transform-origin:0 0">of the Congo</div>
<div class="t" style="left:167.5px;width:40px;text-align:right;top:156.26px;font-size:9px;line-height:9px;transform:scaleX(0.92);transform-origin:100% 0">7.<svg class="o1" viewBox="0 0 1139 1409" preserveAspectRatio="none"><path transform="matrix(1 0 0 -1 0 1409)" d="M515 0V1237L197 1010V1180L530 1409H696V0Z" fill="currentColor"/></svg>7<svg class="o1" viewBox="0 0 1139 1409" preserveAspectRatio="none"><path transform="matrix(1 0 0 -1 0 1409)" d="M515 0V1237L197 1010V1180L530 1409H696V0Z" fill="currentColor"/></svg></div>
<div class="n" style="left:217.6px;width:30px;text-align:right;top:157.16px;font-size:8.8px;line-height:8.8px;color:#f24854">4</div>
<div class="rk" style="left:46.5px;width:30px;text-align:center;top:175.35px;font-size:8.8px;line-height:8.8px">9</div>
<div class="t" style="left:91.9px;top:175.15px;font-size:9px;line-height:9px;transform:scaleX(0.93);transform-origin:0 0">Colombia</div>
<div class="t" style="left:167.5px;width:40px;text-align:right;top:175.15px;font-size:9px;line-height:9px;transform:scaleX(0.92);transform-origin:100% 0">7.<svg class="o1" viewBox="0 0 1139 1409" preserveAspectRatio="none"><path transform="matrix(1 0 0 -1 0 1409)" d="M515 0V1237L197 1010V1180L530 1409H696V0Z" fill="currentColor"/></svg><svg class="o1" viewBox="0 0 1139 1409" preserveAspectRatio="none"><path transform="matrix(1 0 0 -1 0 1409)" d="M515 0V1237L197 1010V1180L530 1409H696V0Z" fill="currentColor"/></svg>6</div>
<div class="n" style="left:217.6px;width:30px;text-align:right;top:176.05px;font-size:8.8px;line-height:8.8px;color:#f24854">5</div>
<div class="rk" style="left:46.5px;width:30px;text-align:center;top:187.95px;font-size:8.8px;line-height:8.8px"><svg class="o1" viewBox="0 0 1139 1409" preserveAspectRatio="none"><path transform="matrix(1 0 0 -1 0 1409)" d="M478 0V1170L140 959V1180L493 1409H759V0Z" fill="currentColor"/></svg>0</div>
<div class="t" style="left:91.9px;top:187.75px;font-size:9px;line-height:9px;transform:scaleX(0.93);transform-origin:0 0">Israel</div>
<div class="t" style="left:167.5px;width:40px;text-align:right;top:187.75px;font-size:9px;line-height:9px;transform:scaleX(0.92);transform-origin:100% 0">6.79</div>
<div class="n" style="left:217.6px;width:30px;text-align:right;top:188.65px;font-size:8.8px;line-height:8.8px;color:#1f98ad">2</div>
<div class="rk" style="left:46.5px;width:30px;text-align:center;top:200.54px;font-size:8.8px;line-height:8.8px"><svg class="o1" viewBox="0 0 1139 1409" preserveAspectRatio="none"><path transform="matrix(1 0 0 -1 0 1409)" d="M478 0V1170L140 959V1180L493 1409H759V0Z" fill="currentColor"/></svg><svg class="o1" viewBox="0 0 1139 1409" preserveAspectRatio="none"><path transform="matrix(1 0 0 -1 0 1409)" d="M478 0V1170L140 959V1180L493 1409H759V0Z" fill="currentColor"/></svg></div>
<div class="t" style="left:91.9px;top:200.34px;font-size:9px;line-height:9px;transform:scaleX(0.93);transform-origin:0 0">Afghanistan</div>
<div class="t" style="left:167.5px;width:40px;text-align:right;top:200.34px;font-size:9px;line-height:9px;transform:scaleX(0.92);transform-origin:100% 0">6.678</div>
<div class="n" style="left:217.6px;width:30px;text-align:right;top:201.24px;font-size:8.8px;line-height:8.8px;color:#1f98ad">2</div>
<div class="rk" style="left:46.5px;width:30px;text-align:center;top:213.13px;font-size:8.8px;line-height:8.8px"><svg class="o1" viewBox="0 0 1139 1409" preserveAspectRatio="none"><path transform="matrix(1 0 0 -1 0 1409)" d="M478 0V1170L140 959V1180L493 1409H759V0Z" fill="currentColor"/></svg>2</div>
<div class="t" style="left:91.9px;top:212.93px;font-size:9px;line-height:9px;transform:scaleX(0.93);transform-origin:0 0">Cameroon</div>
<div class="t" style="left:167.5px;width:40px;text-align:right;top:212.93px;font-size:9px;line-height:9px;transform:scaleX(0.92);transform-origin:100% 0">6.593</div>
<div class="n" style="left:217.6px;width:30px;text-align:right;top:213.83px;font-size:8.8px;line-height:8.8px;color:#1f98ad">2</div>
<div class="rk" style="left:46.5px;width:30px;text-align:center;top:225.73px;font-size:8.8px;line-height:8.8px"><svg class="o1" viewBox="0 0 1139 1409" preserveAspectRatio="none"><path transform="matrix(1 0 0 -1 0 1409)" d="M478 0V1170L140 959V1180L493 1409H759V0Z" fill="currentColor"/></svg>3</div>
<div class="t" style="left:91.9px;top:225.53px;font-size:9px;line-height:9px;transform:scaleX(0.93);transform-origin:0 0">India</div>
<div class="t" style="left:167.5px;width:40px;text-align:right;top:225.53px;font-size:9px;line-height:9px;transform:scaleX(0.92);transform-origin:100% 0">6.428</div>
<div class="n" style="left:217.6px;width:30px;text-align:right;top:226.43px;font-size:8.8px;line-height:8.8px;color:#f24854">2</div>
<div class="rk" style="left:46.5px;width:30px;text-align:center;top:238.32px;font-size:8.8px;line-height:8.8px"><svg class="o1" viewBox="0 0 1139 1409" preserveAspectRatio="none"><path transform="matrix(1 0 0 -1 0 1409)" d="M478 0V1170L140 959V1180L493 1409H759V0Z" fill="currentColor"/></svg>4</div>
<div class="t" style="left:91.9px;top:238.12px;font-size:9px;line-height:9px;transform:scaleX(0.93);transform-origin:0 0">Myanmar</div>
<div class="t" style="left:167.5px;width:40px;text-align:right;top:238.12px;font-size:9px;line-height:9px;transform:scaleX(0.92);transform-origin:100% 0">6.245</div>
<div class="n" style="left:217.6px;width:30px;text-align:right;top:239.02px;font-size:8.8px;line-height:8.8px;color:#1f98ad">3</div>
<div class="rk" style="left:46.5px;width:30px;text-align:center;top:250.92px;font-size:8.8px;line-height:8.8px"><svg class="o1" viewBox="0 0 1139 1409" preserveAspectRatio="none"><path transform="matrix(1 0 0 -1 0 1409)" d="M478 0V1170L140 959V1180L493 1409H759V0Z" fill="currentColor"/></svg>5</div>
<div class="t" style="left:91.9px;top:250.72px;font-size:9px;line-height:9px;transform:scaleX(0.93);transform-origin:0 0">Mozambique</div>
<div class="t" style="left:167.5px;width:40px;text-align:right;top:250.72px;font-size:9px;line-height:9px;transform:scaleX(0.92);transform-origin:100% 0">6.022</div>
<div class="n" style="left:217.6px;width:30px;text-align:right;top:251.62px;font-size:8.8px;line-height:8.8px;color:#f24854"><svg class="o1" viewBox="0 0 1139 1409" preserveAspectRatio="none"><path transform="matrix(1 0 0 -1 0 1409)" d="M515 0V1237L197 1010V1180L530 1409H696V0Z" fill="currentColor"/></svg></div>
<div class="rk" style="left:46.5px;width:30px;text-align:center;top:263.51px;font-size:8.8px;line-height:8.8px"><svg class="o1" viewBox="0 0 1139 1409" preserveAspectRatio="none"><path transform="matrix(1 0 0 -1 0 1409)" d="M478 0V1170L140 959V1180L493 1409H759V0Z" fill="currentColor"/></svg>6</div>
<div class="t" style="left:91.9px;top:263.31px;font-size:9px;line-height:9px;transform:scaleX(0.93);transform-origin:0 0">Iraq</div>
<div class="t" style="left:167.5px;width:40px;text-align:right;top:263.31px;font-size:9px;line-height:9px;transform:scaleX(0.92);transform-origin:100% 0">5.822</div>
<div class="n" style="left:217.6px;width:30px;text-align:right;top:264.21px;font-size:8.8px;line-height:8.8px;color:#1f98ad">3</div>
<div class="rk" style="left:46.5px;width:30px;text-align:center;top:276.1px;font-size:8.8px;line-height:8.8px"><svg class="o1" viewBox="0 0 1139 1409" preserveAspectRatio="none"><path transform="matrix(1 0 0 -1 0 1409)" d="M478 0V1170L140 959V1180L493 1409H759V0Z" fill="currentColor"/></svg>7</div>
<div class="t" style="left:91.9px;top:275.9px;font-size:9px;line-height:9px;transform:scaleX(0.93);transform-origin:0 0">Russia</div>
<div class="t" style="left:167.5px;width:40px;text-align:right;top:275.9px;font-size:9px;line-height:9px;transform:scaleX(0.92);transform-origin:100% 0">5.593</div>
<div class="rk" style="left:46.5px;width:30px;text-align:center;top:288.7px;font-size:8.8px;line-height:8.8px"><svg class="o1" viewBox="0 0 1139 1409" preserveAspectRatio="none"><path transform="matrix(1 0 0 -1 0 1409)" d="M478 0V1170L140 959V1180L493 1409H759V0Z" fill="currentColor"/></svg>8</div>
<div class="t" style="left:91.9px;top:288.5px;font-size:9px;line-height:9px;transform:scaleX(0.93);transform-origin:0 0">Iran</div>
<div class="t" style="left:167.5px;width:40px;text-align:right;top:288.5px;font-size:9px;line-height:9px;transform:scaleX(0.92);transform-origin:100% 0">5.477</div>
<div class="rk" style="left:46.5px;width:30px;text-align:center;top:301.29px;font-size:8.8px;line-height:8.8px"><svg class="o1" viewBox="0 0 1139 1409" preserveAspectRatio="none"><path transform="matrix(1 0 0 -1 0 1409)" d="M478 0V1170L140 959V1180L493 1409H759V0Z" fill="currentColor"/></svg>9</div>
<div class="t" style="left:91.9px;top:301.09px;font-size:9px;line-height:9px;transform:scaleX(0.93);transform-origin:0 0">Benin</div>
<div class="t" style="left:167.5px;width:40px;text-align:right;top:301.09px;font-size:9px;line-height:9px;transform:scaleX(0.92);transform-origin:100% 0">5.434</div>
<div class="n" style="left:217.6px;width:30px;text-align:right;top:301.99px;font-size:8.8px;line-height:8.8px;color:#f24854">8</div>
<div class="rk" style="left:46.5px;width:30px;text-align:center;top:313.89px;font-size:8.8px;line-height:8.8px">20</div>
<div class="t" style="left:91.9px;top:313.69px;font-size:9px;line-height:9px;transform:scaleX(0.93);transform-origin:0 0">Thailand</div>
<div class="t" style="left:167.5px;width:40px;text-align:right;top:313.69px;font-size:9px;line-height:9px;transform:scaleX(0.92);transform-origin:100% 0">5.275</div>
<div class="n" style="left:217.6px;width:30px;text-align:right;top:314.59px;font-size:8.8px;line-height:8.8px;color:#f24854">6</div>
<div class="rk" style="left:46.5px;width:30px;text-align:center;top:326.48px;font-size:8.8px;line-height:8.8px">2<svg class="o1" viewBox="0 0 1139 1409" preserveAspectRatio="none"><path transform="matrix(1 0 0 -1 0 1409)" d="M478 0V1170L140 959V1180L493 1409H759V0Z" fill="currentColor"/></svg></div>
<div class="t" style="left:91.9px;top:326.28px;font-size:9px;line-height:9px;transform:scaleX(0.93);transform-origin:0 0">Kenya</div>
<div class="t" style="left:167.5px;width:40px;text-align:right;top:326.28px;font-size:9px;line-height:9px;transform:scaleX(0.92);transform-origin:100% 0">5.088</div>
<div class="n" style="left:217.6px;width:30px;text-align:right;top:327.18px;font-size:8.8px;line-height:8.8px;color:#1f98ad"><svg class="o1" viewBox="0 0 1139 1409" preserveAspectRatio="none"><path transform="matrix(1 0 0 -1 0 1409)" d="M515 0V1237L197 1010V1180L530 1409H696V0Z" fill="currentColor"/></svg></div>
<div class="rk" style="left:46.5px;width:30px;text-align:center;top:339.07px;font-size:8.8px;line-height:8.8px">22</div>
<div class="t" style="left:91.9px;top:338.87px;font-size:9px;line-height:9px;transform:scaleX(0.93);transform-origin:0 0">Palestine</div>
<div class="t" style="left:167.5px;width:40px;text-align:right;top:338.87px;font-size:9px;line-height:9px;transform:scaleX(0.92);transform-origin:100% 0">4.8</div>
<div class="n" style="left:217.6px;width:30px;text-align:right;top:339.77px;font-size:8.8px;line-height:8.8px;color:#f24854">2</div>
<div class="rk" style="left:46.5px;width:30px;text-align:center;top:351.67px;font-size:8.8px;line-height:8.8px">23</div>
<div class="t" style="left:91.9px;top:351.47px;font-size:9px;line-height:9px;transform:scaleX(0.93);transform-origin:0 0">Philippines</div>
<div class="t" style="left:167.5px;width:40px;text-align:right;top:351.47px;font-size:9px;line-height:9px;transform:scaleX(0.92);transform-origin:100% 0">4.7<svg class="o1" viewBox="0 0 1139 1409" preserveAspectRatio="none"><path transform="matrix(1 0 0 -1 0 1409)" d="M515 0V1237L197 1010V1180L530 1409H696V0Z" fill="currentColor"/></svg>9</div>
<div class="n" style="left:217.6px;width:30px;text-align:right;top:352.37px;font-size:8.8px;line-height:8.8px;color:#1f98ad">2</div>
<div class="rk" style="left:46.5px;width:30px;text-align:center;top:364.26px;font-size:8.8px;line-height:8.8px">24</div>
<div class="t" style="left:91.9px;top:364.06px;font-size:9px;line-height:9px;transform:scaleX(0.93);transform-origin:0 0">Indonesia</div>
<div class="t" style="left:167.5px;width:40px;text-align:right;top:364.06px;font-size:9px;line-height:9px;transform:scaleX(0.92);transform-origin:100% 0">4.7<svg class="o1" viewBox="0 0 1139 1409" preserveAspectRatio="none"><path transform="matrix(1 0 0 -1 0 1409)" d="M515 0V1237L197 1010V1180L530 1409H696V0Z" fill="currentColor"/></svg>4</div>
<div class="n" style="left:217.6px;width:30px;text-align:right;top:364.96px;font-size:8.8px;line-height:8.8px;color:#f24854">6</div>
<div class="rk" style="left:46.5px;width:30px;text-align:center;top:376.86px;font-size:8.8px;line-height:8.8px">25</div>
<div class="t" style="left:91.9px;top:376.66px;font-size:9px;line-height:9px;transform:scaleX(0.93);transform-origin:0 0">Yemen</div>
<div class="t" style="left:167.5px;width:40px;text-align:right;top:376.66px;font-size:9px;line-height:9px;transform:scaleX(0.92);transform-origin:100% 0">4.653</div>
<div class="n" style="left:217.6px;width:30px;text-align:right;top:377.56px;font-size:8.8px;line-height:8.8px;color:#1f98ad">2</div>
<div class="rk" style="left:46.5px;width:30px;text-align:center;top:389.45px;font-size:8.8px;line-height:8.8px">26</div>
<div class="t" style="left:91.9px;top:389.25px;font-size:9px;line-height:9px;transform:scaleX(0.93);transform-origin:0 0">Chad</div>
<div class="t" style="left:167.5px;width:40px;text-align:right;top:389.25px;font-size:9px;line-height:9px;transform:scaleX(0.92);transform-origin:100% 0">4.625</div>
<div class="n" style="left:217.6px;width:30px;text-align:right;top:390.15px;font-size:8.8px;line-height:8.8px;color:#1f98ad">7</div>
<div class="rk" style="left:46.5px;width:30px;text-align:center;top:402.04px;font-size:8.8px;line-height:8.8px">27</div>
<div class="t" style="left:91.9px;top:401.84px;font-size:9px;line-height:9px;transform:scaleX(0.93);transform-origin:0 0">Chile</div>
<div class="t" style="left:167.5px;width:40px;text-align:right;top:401.84px;font-size:9px;line-height:9px;transform:scaleX(0.92);transform-origin:100% 0">4.553</div>
<div class="n" style="left:217.6px;width:30px;text-align:right;top:402.74px;font-size:8.8px;line-height:8.8px;color:#1f98ad">5</div>
<div class="h" style="left:269px;width:40px;text-align:center;top:43.89px;font-size:8.4px;line-height:8.4px">Rank</div>
<div class="h" style="left:317.1px;top:43.89px;font-size:8.4px;line-height:8.4px">Country</div>
<div class="h" style="left:392.7px;width:40px;text-align:right;top:43.89px;font-size:8.4px;line-height:8.4px">Score</div>
<div class="h" style="left:436.5px;width:40px;text-align:center;top:40.09px;font-size:8.4px;line-height:8.4px">Rank</div>
<div class="h" style="left:436.5px;width:40px;text-align:center;top:47.79px;font-size:8.4px;line-height:8.4px">Change</div>
<div class="rk" style="left:272.4px;width:30px;text-align:center;top:67.8px;font-size:8.8px;line-height:8.8px">28</div>
<div class="t" style="left:317.1px;top:62.9px;font-size:9px;line-height:9px;transform:scaleX(0.93);transform-origin:0 0">United States of</div>
<div class="t" style="left:317.1px;top:73.3px;font-size:9px;line-height:9px;transform:scaleX(0.93);transform-origin:0 0">America</div>
<div class="t" style="left:393.1px;width:40px;text-align:right;top:68.1px;font-size:9px;line-height:9px;transform:scaleX(0.92);transform-origin:100% 0">4.52<svg class="o1" viewBox="0 0 1139 1409" preserveAspectRatio="none"><path transform="matrix(1 0 0 -1 0 1409)" d="M515 0V1237L197 1010V1180L530 1409H696V0Z" fill="currentColor"/></svg></div>
<div class="n" style="left:442.9px;width:30px;text-align:right;top:69px;font-size:8.8px;line-height:8.8px;color:#f24854">6</div>
<div class="rk" style="left:272.4px;width:30px;text-align:center;top:86.69px;font-size:8.8px;line-height:8.8px">29</div>
<div class="t" style="left:317.1px;top:86.99px;font-size:9px;line-height:9px;transform:scaleX(0.93);transform-origin:0 0">Germany</div>
<div class="t" style="left:393.1px;width:40px;text-align:right;top:86.99px;font-size:9px;line-height:9px;transform:scaleX(0.92);transform-origin:100% 0">4.447</div>
<div class="n" style="left:442.9px;width:30px;text-align:right;top:87.89px;font-size:8.8px;line-height:8.8px;color:#1f98ad"><svg class="o1" viewBox="0 0 1139 1409" preserveAspectRatio="none"><path transform="matrix(1 0 0 -1 0 1409)" d="M515 0V1237L197 1010V1180L530 1409H696V0Z" fill="currentColor"/></svg></div>
<div class="rk" style="left:272.4px;width:30px;text-align:center;top:99.29px;font-size:8.8px;line-height:8.8px">30</div>
<div class="t" style="left:317.1px;top:99.59px;font-size:9px;line-height:9px;transform:scaleX(0.93);transform-origin:0 0">Togo</div>
<div class="t" style="left:393.1px;width:40px;text-align:right;top:99.59px;font-size:9px;line-height:9px;transform:scaleX(0.92);transform-origin:100% 0">4.305</div>
<div class="n" style="left:442.9px;width:30px;text-align:right;top:100.49px;font-size:8.8px;line-height:8.8px;color:#1f98ad">5</div>
<div class="rk" style="left:272.4px;width:30px;text-align:center;top:111.88px;font-size:8.8px;line-height:8.8px">3<svg class="o1" viewBox="0 0 1139 1409" preserveAspectRatio="none"><path transform="matrix(1 0 0 -1 0 1409)" d="M478 0V1170L140 959V1180L493 1409H759V0Z" fill="currentColor"/></svg></div>
<div class="t" style="left:317.1px;top:112.18px;font-size:9px;line-height:9px;transform:scaleX(0.93);transform-origin:0 0">Australia</div>
<div class="t" style="left:393.1px;width:40px;text-align:right;top:112.18px;font-size:9px;line-height:9px;transform:scaleX(0.92);transform-origin:100% 0">3.732</div>
<div class="n" style="left:442.9px;width:30px;text-align:right;top:113.08px;font-size:8.8px;line-height:8.8px;color:#f24854"><svg class="o1" viewBox="0 0 1139 1409" preserveAspectRatio="none"><path transform="matrix(1 0 0 -1 0 1409)" d="M515 0V1237L197 1010V1180L530 1409H696V0Z" fill="currentColor"/></svg>4</div>
<div class="rk" style="left:272.4px;width:30px;text-align:center;top:124.48px;font-size:8.8px;line-height:8.8px">32</div>
<div class="t" style="left:317.1px;top:124.78px;font-size:9px;line-height:9px;transform:scaleX(0.93);transform-origin:0 0">Egypt</div>
<div class="t" style="left:393.1px;width:40px;text-align:right;top:124.78px;font-size:9px;line-height:9px;transform:scaleX(0.92);transform-origin:100% 0">3.465</div>
<div class="n" style="left:442.9px;width:30px;text-align:right;top:125.68px;font-size:8.8px;line-height:8.8px;color:#1f98ad">3</div>
<div class="rk" style="left:272.4px;width:30px;text-align:center;top:137.07px;font-size:8.8px;line-height:8.8px">33</div>
<div class="t" style="left:317.1px;top:137.37px;font-size:9px;line-height:9px;transform:scaleX(0.93);transform-origin:0 0">Burundi</div>
<div class="t" style="left:393.1px;width:40px;text-align:right;top:137.37px;font-size:9px;line-height:9px;transform:scaleX(0.92);transform-origin:100% 0">3.36<svg class="o1" viewBox="0 0 1139 1409" preserveAspectRatio="none"><path transform="matrix(1 0 0 -1 0 1409)" d="M515 0V1237L197 1010V1180L530 1409H696V0Z" fill="currentColor"/></svg></div>
<div class="n" style="left:442.9px;width:30px;text-align:right;top:138.27px;font-size:8.8px;line-height:8.8px;color:#1f98ad">2</div>
<div class="rk" style="left:272.4px;width:30px;text-align:center;top:149.66px;font-size:8.8px;line-height:8.8px">34</div>
<div class="t" style="left:317.1px;top:149.96px;font-size:9px;line-height:9px;transform:scaleX(0.93);transform-origin:0 0">Uganda</div>
<div class="t" style="left:393.1px;width:40px;text-align:right;top:149.96px;font-size:9px;line-height:9px;transform:scaleX(0.92);transform-origin:100% 0">3.25</div>
<div class="n" style="left:442.9px;width:30px;text-align:right;top:150.86px;font-size:8.8px;line-height:8.8px;color:#1f98ad"><svg class="o1" viewBox="0 0 1139 1409" preserveAspectRatio="none"><path transform="matrix(1 0 0 -1 0 1409)" d="M515 0V1237L197 1010V1180L530 1409H696V0Z" fill="currentColor"/></svg></div>
<div class="rk" style="left:272.4px;width:30px;text-align:center;top:162.26px;font-size:8.8px;line-height:8.8px">35</div>
<div class="t" style="left:317.1px;top:162.56px;font-size:9px;line-height:9px;transform:scaleX(0.93);transform-origin:0 0">France</div>
<div class="t" style="left:393.1px;width:40px;text-align:right;top:162.56px;font-size:9px;line-height:9px;transform:scaleX(0.92);transform-origin:100% 0">3.224</div>
<div class="n" style="left:442.9px;width:30px;text-align:right;top:163.46px;font-size:8.8px;line-height:8.8px;color:#f24854">6</div>
<div class="rk" style="left:272.4px;width:30px;text-align:center;top:174.85px;font-size:8.8px;line-height:8.8px">36</div>
<div class="t" style="left:317.1px;top:175.15px;font-size:9px;line-height:9px;transform:scaleX(0.93);transform-origin:0 0">Türkiye</div>
<div class="t" style="left:393.1px;width:40px;text-align:right;top:175.15px;font-size:9px;line-height:9px;transform:scaleX(0.92);transform-origin:100% 0">3.2<svg class="o1" viewBox="0 0 1139 1409" preserveAspectRatio="none"><path transform="matrix(1 0 0 -1 0 1409)" d="M515 0V1237L197 1010V1180L530 1409H696V0Z" fill="currentColor"/></svg>2</div>
<div class="n" style="left:442.9px;width:30px;text-align:right;top:176.05px;font-size:8.8px;line-height:8.8px;color:#1f98ad">4</div>
<div class="rk" style="left:272.4px;width:30px;text-align:center;top:187.45px;font-size:8.8px;line-height:8.8px">37</div>
<div class="t" style="left:317.1px;top:187.75px;font-size:9px;line-height:9px;transform:scaleX(0.93);transform-origin:0 0">Ecuador</div>
<div class="t" style="left:393.1px;width:40px;text-align:right;top:187.75px;font-size:9px;line-height:9px;transform:scaleX(0.92);transform-origin:100% 0">3.063</div>
<div class="n" style="left:442.9px;width:30px;text-align:right;top:188.65px;font-size:8.8px;line-height:8.8px;color:#f24854">20</div>
<div class="rk" style="left:272.4px;width:30px;text-align:center;top:200.04px;font-size:8.8px;line-height:8.8px">38</div>
<div class="t" style="left:317.1px;top:200.34px;font-size:9px;line-height:9px;transform:scaleX(0.93);transform-origin:0 0">United Kingdom</div>
<div class="t" style="left:393.1px;width:40px;text-align:right;top:200.34px;font-size:9px;line-height:9px;transform:scaleX(0.92);transform-origin:100% 0">2.936</div>
<div class="n" style="left:442.9px;width:30px;text-align:right;top:201.24px;font-size:8.8px;line-height:8.8px;color:#f24854">2</div>
<div class="rk" style="left:272.4px;width:30px;text-align:center;top:212.63px;font-size:8.8px;line-height:8.8px">39</div>
<div class="t" style="left:317.1px;top:212.93px;font-size:9px;line-height:9px;transform:scaleX(0.93);transform-origin:0 0">Ukraine</div>
<div class="t" style="left:393.1px;width:40px;text-align:right;top:212.93px;font-size:9px;line-height:9px;transform:scaleX(0.92);transform-origin:100% 0">2.927</div>
<div class="n" style="left:442.9px;width:30px;text-align:right;top:213.83px;font-size:8.8px;line-height:8.8px;color:#f24854">8</div>
<div class="rk" style="left:272.4px;width:30px;text-align:center;top:225.23px;font-size:8.8px;line-height:8.8px">40</div>
<div class="t" style="left:317.1px;top:225.53px;font-size:9px;line-height:9px;transform:scaleX(0.93);transform-origin:0 0">Greece</div>
<div class="t" style="left:393.1px;width:40px;text-align:right;top:225.53px;font-size:9px;line-height:9px;transform:scaleX(0.92);transform-origin:100% 0">2.788</div>
<div class="n" style="left:442.9px;width:30px;text-align:right;top:226.43px;font-size:8.8px;line-height:8.8px;color:#1f98ad">5</div>
<div class="rk" style="left:272.4px;width:30px;text-align:center;top:237.82px;font-size:8.8px;line-height:8.8px">4<svg class="o1" viewBox="0 0 1139 1409" preserveAspectRatio="none"><path transform="matrix(1 0 0 -1 0 1409)" d="M478 0V1170L140 959V1180L493 1409H759V0Z" fill="currentColor"/></svg></div>
<div class="t" style="left:317.1px;top:238.12px;font-size:9px;line-height:9px;transform:scaleX(0.93);transform-origin:0 0">Tajikistan</div>
<div class="t" style="left:393.1px;width:40px;text-align:right;top:238.12px;font-size:9px;line-height:9px;transform:scaleX(0.92);transform-origin:100% 0">2.602</div>
<div class="n" style="left:442.9px;width:30px;text-align:right;top:239.02px;font-size:8.8px;line-height:8.8px;color:#f24854"><svg class="o1" viewBox="0 0 1139 1409" preserveAspectRatio="none"><path transform="matrix(1 0 0 -1 0 1409)" d="M515 0V1237L197 1010V1180L530 1409H696V0Z" fill="currentColor"/></svg>0</div>
<div class="rk" style="left:272.4px;width:30px;text-align:center;top:250.42px;font-size:8.8px;line-height:8.8px">42</div>
<div class="t" style="left:317.1px;top:250.72px;font-size:9px;line-height:9px;transform:scaleX(0.93);transform-origin:0 0">Bangladesh</div>
<div class="t" style="left:393.1px;width:40px;text-align:right;top:250.72px;font-size:9px;line-height:9px;transform:scaleX(0.92);transform-origin:100% 0">2.286</div>
<div class="n" style="left:442.9px;width:30px;text-align:right;top:251.62px;font-size:8.8px;line-height:8.8px;color:#1f98ad">6</div>
<div class="rk" style="left:272.4px;width:30px;text-align:center;top:263.01px;font-size:8.8px;line-height:8.8px">43</div>
<div class="t" style="left:317.1px;top:263.31px;font-size:9px;line-height:9px;transform:scaleX(0.93);transform-origin:0 0">Oman</div>
<div class="t" style="left:393.1px;width:40px;text-align:right;top:263.31px;font-size:9px;line-height:9px;transform:scaleX(0.92);transform-origin:100% 0">2.282</div>
<div class="n" style="left:442.9px;width:30px;text-align:right;top:264.21px;font-size:8.8px;line-height:8.8px;color:#1f98ad">6</div>
<div class="rk" style="left:272.4px;width:30px;text-align:center;top:275.6px;font-size:8.8px;line-height:8.8px">44</div>
<div class="t" style="left:317.1px;top:275.9px;font-size:9px;line-height:9px;transform:scaleX(0.93);transform-origin:0 0">Jordan</div>
<div class="t" style="left:393.1px;width:40px;text-align:right;top:275.9px;font-size:9px;line-height:9px;transform:scaleX(0.92);transform-origin:100% 0">2.268</div>
<div class="n" style="left:442.9px;width:30px;text-align:right;top:276.8px;font-size:8.8px;line-height:8.8px;color:#1f98ad">6</div>
<div class="rk" style="left:272.4px;width:30px;text-align:center;top:288.2px;font-size:8.8px;line-height:8.8px">45</div>
<div class="t" style="left:317.1px;top:288.5px;font-size:9px;line-height:9px;transform:scaleX(0.93);transform-origin:0 0">Czechia</div>
<div class="t" style="left:393.1px;width:40px;text-align:right;top:288.5px;font-size:9px;line-height:9px;transform:scaleX(0.92);transform-origin:100% 0">2.26<svg class="o1" viewBox="0 0 1139 1409" preserveAspectRatio="none"><path transform="matrix(1 0 0 -1 0 1409)" d="M515 0V1237L197 1010V1180L530 1409H696V0Z" fill="currentColor"/></svg></div>
<div class="n" style="left:442.9px;width:30px;text-align:right;top:289.4px;font-size:8.8px;line-height:8.8px;color:#1f98ad">6</div>
<div class="rk" style="left:272.4px;width:30px;text-align:center;top:300.79px;font-size:8.8px;line-height:8.8px">46</div>
<div class="t" style="left:317.1px;top:301.09px;font-size:9px;line-height:9px;transform:scaleX(0.93);transform-origin:0 0">Sweden</div>
<div class="t" style="left:393.1px;width:40px;text-align:right;top:301.09px;font-size:9px;line-height:9px;transform:scaleX(0.92);transform-origin:100% 0"><svg class="o1" viewBox="0 0 1139 1409" preserveAspectRatio="none"><path transform="matrix(1 0 0 -1 0 1409)" d="M515 0V1237L197 1010V1180L530 1409H696V0Z" fill="currentColor"/></svg>.839</div>
<div class="n" style="left:442.9px;width:30px;text-align:right;top:301.99px;font-size:8.8px;line-height:8.8px;color:#f24854">4</div>
<div class="rk" style="left:272.4px;width:30px;text-align:center;top:313.39px;font-size:8.8px;line-height:8.8px">47</div>
<div class="t" style="left:317.1px;top:313.69px;font-size:9px;line-height:9px;transform:scaleX(0.93);transform-origin:0 0">Algeria</div>
<div class="t" style="left:393.1px;width:40px;text-align:right;top:313.69px;font-size:9px;line-height:9px;transform:scaleX(0.92);transform-origin:100% 0"><svg class="o1" viewBox="0 0 1139 1409" preserveAspectRatio="none"><path transform="matrix(1 0 0 -1 0 1409)" d="M515 0V1237L197 1010V1180L530 1409H696V0Z" fill="currentColor"/></svg>.766</div>
<div class="n" style="left:442.9px;width:30px;text-align:right;top:314.59px;font-size:8.8px;line-height:8.8px;color:#1f98ad">5</div>
<div class="rk" style="left:272.4px;width:30px;text-align:center;top:325.98px;font-size:8.8px;line-height:8.8px">48</div>
<div class="t" style="left:317.1px;top:326.28px;font-size:9px;line-height:9px;transform:scaleX(0.93);transform-origin:0 0">Poland</div>
<div class="t" style="left:393.1px;width:40px;text-align:right;top:326.28px;font-size:9px;line-height:9px;transform:scaleX(0.92);transform-origin:100% 0"><svg class="o1" viewBox="0 0 1139 1409" preserveAspectRatio="none"><path transform="matrix(1 0 0 -1 0 1409)" d="M515 0V1237L197 1010V1180L530 1409H696V0Z" fill="currentColor"/></svg>.682</div>
<div class="n" style="left:442.9px;width:30px;text-align:right;top:327.18px;font-size:8.8px;line-height:8.8px;color:#1f98ad">2</div>
<div class="rk" style="left:272.4px;width:30px;text-align:center;top:338.57px;font-size:8.8px;line-height:8.8px">49</div>
<div class="t" style="left:317.1px;top:338.87px;font-size:9px;line-height:9px;transform:scaleX(0.93);transform-origin:0 0">Peru</div>
<div class="t" style="left:393.1px;width:40px;text-align:right;top:338.87px;font-size:9px;line-height:9px;transform:scaleX(0.92);transform-origin:100% 0"><svg class="o1" viewBox="0 0 1139 1409" preserveAspectRatio="none"><path transform="matrix(1 0 0 -1 0 1409)" d="M515 0V1237L197 1010V1180L530 1409H696V0Z" fill="currentColor"/></svg>.572</div>
<div class="n" style="left:442.9px;width:30px;text-align:right;top:339.77px;font-size:8.8px;line-height:8.8px;color:#1f98ad">5</div>
<div class="rk" style="left:272.4px;width:30px;text-align:center;top:351.17px;font-size:8.8px;line-height:8.8px">50</div>
<div class="t" style="left:317.1px;top:351.47px;font-size:9px;line-height:9px;transform:scaleX(0.93);transform-origin:0 0">Tunisia</div>
<div class="t" style="left:393.1px;width:40px;text-align:right;top:351.47px;font-size:9px;line-height:9px;transform:scaleX(0.92);transform-origin:100% 0"><svg class="o1" viewBox="0 0 1139 1409" preserveAspectRatio="none"><path transform="matrix(1 0 0 -1 0 1409)" d="M515 0V1237L197 1010V1180L530 1409H696V0Z" fill="currentColor"/></svg>.522</div>
<div class="n" style="left:442.9px;width:30px;text-align:right;top:352.37px;font-size:8.8px;line-height:8.8px;color:#1f98ad">7</div>
<div class="rk" style="left:272.4px;width:30px;text-align:center;top:363.76px;font-size:8.8px;line-height:8.8px">5<svg class="o1" viewBox="0 0 1139 1409" preserveAspectRatio="none"><path transform="matrix(1 0 0 -1 0 1409)" d="M478 0V1170L140 959V1180L493 1409H759V0Z" fill="currentColor"/></svg></div>
<div class="t" style="left:317.1px;top:364.06px;font-size:9px;line-height:9px;transform:scaleX(0.93);transform-origin:0 0">Austria</div>
<div class="t" style="left:393.1px;width:40px;text-align:right;top:364.06px;font-size:9px;line-height:9px;transform:scaleX(0.92);transform-origin:100% 0"><svg class="o1" viewBox="0 0 1139 1409" preserveAspectRatio="none"><path transform="matrix(1 0 0 -1 0 1409)" d="M515 0V1237L197 1010V1180L530 1409H696V0Z" fill="currentColor"/></svg>.498</div>
<div class="n" style="left:442.9px;width:30px;text-align:right;top:364.96px;font-size:8.8px;line-height:8.8px;color:#f24854">34</div>
<div class="rk" style="left:272.4px;width:30px;text-align:center;top:376.36px;font-size:8.8px;line-height:8.8px">52</div>
<div class="t" style="left:317.1px;top:376.66px;font-size:9px;line-height:9px;transform:scaleX(0.93);transform-origin:0 0">Netherlands</div>
<div class="t" style="left:393.1px;width:40px;text-align:right;top:376.66px;font-size:9px;line-height:9px;transform:scaleX(0.92);transform-origin:100% 0"><svg class="o1" viewBox="0 0 1139 1409" preserveAspectRatio="none"><path transform="matrix(1 0 0 -1 0 1409)" d="M515 0V1237L197 1010V1180L530 1409H696V0Z" fill="currentColor"/></svg>.475</div>
<div class="n" style="left:442.9px;width:30px;text-align:right;top:377.56px;font-size:8.8px;line-height:8.8px;color:#f24854"><svg class="o1" viewBox="0 0 1139 1409" preserveAspectRatio="none"><path transform="matrix(1 0 0 -1 0 1409)" d="M515 0V1237L197 1010V1180L530 1409H696V0Z" fill="currentColor"/></svg>0</div>
<div class="rk" style="left:272.4px;width:30px;text-align:center;top:388.95px;font-size:8.8px;line-height:8.8px">53</div>
<div class="t" style="left:317.1px;top:389.25px;font-size:9px;line-height:9px;transform:scaleX(0.93);transform-origin:0 0">Canada</div>
<div class="t" style="left:393.1px;width:40px;text-align:right;top:389.25px;font-size:9px;line-height:9px;transform:scaleX(0.92);transform-origin:100% 0"><svg class="o1" viewBox="0 0 1139 1409" preserveAspectRatio="none"><path transform="matrix(1 0 0 -1 0 1409)" d="M515 0V1237L197 1010V1180L530 1409H696V0Z" fill="currentColor"/></svg>.333</div>
<div class="n" style="left:442.9px;width:30px;text-align:right;top:390.15px;font-size:8.8px;line-height:8.8px;color:#1f98ad">5</div>
<div class="rk" style="left:272.4px;width:30px;text-align:center;top:401.54px;font-size:8.8px;line-height:8.8px">54</div>
<div class="t" style="left:317.1px;top:401.84px;font-size:9px;line-height:9px;transform:scaleX(0.93);transform-origin:0 0">China</div>
<div class="t" style="left:393.1px;width:40px;text-align:right;top:401.84px;font-size:9px;line-height:9px;transform:scaleX(0.92);transform-origin:100% 0"><svg class="o1" viewBox="0 0 1139 1409" preserveAspectRatio="none"><path transform="matrix(1 0 0 -1 0 1409)" d="M515 0V1237L197 1010V1180L530 1409H696V0Z" fill="currentColor"/></svg>.3<svg class="o1" viewBox="0 0 1139 1409" preserveAspectRatio="none"><path transform="matrix(1 0 0 -1 0 1409)" d="M515 0V1237L197 1010V1180L530 1409H696V0Z" fill="currentColor"/></svg><svg class="o1" viewBox="0 0 1139 1409" preserveAspectRatio="none"><path transform="matrix(1 0 0 -1 0 1409)" d="M515 0V1237L197 1010V1180L530 1409H696V0Z" fill="currentColor"/></svg></div>
<div class="n" style="left:442.9px;width:30px;text-align:right;top:402.74px;font-size:8.8px;line-height:8.8px;color:#1f98ad">5</div>
<div class="h" style="left:494.8px;width:40px;text-align:center;top:43.89px;font-size:8.4px;line-height:8.4px">Rank</div>
<div class="h" style="left:542.9px;top:43.89px;font-size:8.4px;line-height:8.4px">Country</div>
<div class="h" style="left:618.5px;width:40px;text-align:right;top:43.89px;font-size:8.4px;line-height:8.4px">Score</div>
<div class="h" style="left:662.4px;width:40px;text-align:center;top:40.09px;font-size:8.4px;line-height:8.4px">Rank</div>
<div class="h" style="left:662.4px;width:40px;text-align:center;top:47.79px;font-size:8.4px;line-height:8.4px">Change</div>
<div class="rk" style="left:498.6px;width:30px;text-align:center;top:61.91px;font-size:8.8px;line-height:8.8px">55</div>
<div class="t" style="left:542.9px;top:61.81px;font-size:9px;line-height:9px;transform:scaleX(0.93);transform-origin:0 0">Belgium</div>
<div class="t" style="left:619.1px;width:40px;text-align:right;top:61.81px;font-size:9px;line-height:9px;transform:scaleX(0.92);transform-origin:100% 0"><svg class="o1" viewBox="0 0 1139 1409" preserveAspectRatio="none"><path transform="matrix(1 0 0 -1 0 1409)" d="M515 0V1237L197 1010V1180L530 1409H696V0Z" fill="currentColor"/></svg>.<svg class="o1" viewBox="0 0 1139 1409" preserveAspectRatio="none"><path transform="matrix(1 0 0 -1 0 1409)" d="M515 0V1237L197 1010V1180L530 1409H696V0Z" fill="currentColor"/></svg>98</div>
<div class="n" style="left:669.2px;width:30px;text-align:right;top:62.71px;font-size:8.8px;line-height:8.8px;color:#f24854">3</div>
<div class="rk" style="left:498.6px;width:30px;text-align:center;top:74.5px;font-size:8.8px;line-height:8.8px">56</div>
<div class="t" style="left:542.9px;top:74.4px;font-size:9px;line-height:9px;transform:scaleX(0.93);transform-origin:0 0">Angola</div>
<div class="t" style="left:619.1px;width:40px;text-align:right;top:74.4px;font-size:9px;line-height:9px;transform:scaleX(0.92);transform-origin:100% 0"><svg class="o1" viewBox="0 0 1139 1409" preserveAspectRatio="none"><path transform="matrix(1 0 0 -1 0 1409)" d="M515 0V1237L197 1010V1180L530 1409H696V0Z" fill="currentColor"/></svg>.<svg class="o1" viewBox="0 0 1139 1409" preserveAspectRatio="none"><path transform="matrix(1 0 0 -1 0 1409)" d="M515 0V1237L197 1010V1180L530 1409H696V0Z" fill="currentColor"/></svg>36</div>
<div class="n" style="left:669.2px;width:30px;text-align:right;top:75.3px;font-size:8.8px;line-height:8.8px;color:#1f98ad">3</div>
<div class="rk" style="left:498.6px;width:30px;text-align:center;top:87.09px;font-size:8.8px;line-height:8.8px">57</div>
<div class="t" style="left:542.9px;top:86.99px;font-size:9px;line-height:9px;transform:scaleX(0.93);transform-origin:0 0">Malaysia</div>
<div class="t" style="left:619.1px;width:40px;text-align:right;top:86.99px;font-size:9px;line-height:9px;transform:scaleX(0.92);transform-origin:100% 0"><svg class="o1" viewBox="0 0 1139 1409" preserveAspectRatio="none"><path transform="matrix(1 0 0 -1 0 1409)" d="M515 0V1237L197 1010V1180L530 1409H696V0Z" fill="currentColor"/></svg>.092</div>
<div class="n" style="left:669.2px;width:30px;text-align:right;top:87.89px;font-size:8.8px;line-height:8.8px;color:#1f98ad">3</div>
<div class="rk" style="left:498.6px;width:30px;text-align:center;top:99.69px;font-size:8.8px;line-height:8.8px">58</div>
<div class="t" style="left:542.9px;top:99.59px;font-size:9px;line-height:9px;transform:scaleX(0.93);transform-origin:0 0">Senegal</div>
<div class="t" style="left:619.1px;width:40px;text-align:right;top:99.59px;font-size:9px;line-height:9px;transform:scaleX(0.92);transform-origin:100% 0"><svg class="o1" viewBox="0 0 1139 1409" preserveAspectRatio="none"><path transform="matrix(1 0 0 -1 0 1409)" d="M515 0V1237L197 1010V1180L530 1409H696V0Z" fill="currentColor"/></svg>.07</div>
<div class="n" style="left:669.2px;width:30px;text-align:right;top:100.49px;font-size:8.8px;line-height:8.8px;color:#1f98ad">2</div>
<div class="rk" style="left:498.6px;width:30px;text-align:center;top:112.28px;font-size:8.8px;line-height:8.8px">59</div>
<div class="t" style="left:542.9px;top:112.18px;font-size:9px;line-height:9px;transform:scaleX(0.93);transform-origin:0 0">Libya</div>
<div class="t" style="left:619.1px;width:40px;text-align:right;top:112.18px;font-size:9px;line-height:9px;transform:scaleX(0.92);transform-origin:100% 0"><svg class="o1" viewBox="0 0 1139 1409" preserveAspectRatio="none"><path transform="matrix(1 0 0 -1 0 1409)" d="M515 0V1237L197 1010V1180L530 1409H696V0Z" fill="currentColor"/></svg>.007</div>
<div class="n" style="left:669.2px;width:30px;text-align:right;top:113.08px;font-size:8.8px;line-height:8.8px;color:#1f98ad">4</div>
<div class="rk" style="left:498.6px;width:30px;text-align:center;top:124.88px;font-size:8.8px;line-height:8.8px">60</div>
<div class="t" style="left:542.9px;top:124.78px;font-size:9px;line-height:9px;transform:scaleX(0.93);transform-origin:0 0">Italy</div>
<div class="t" style="left:619.1px;width:40px;text-align:right;top:124.78px;font-size:9px;line-height:9px;transform:scaleX(0.92);transform-origin:100% 0">0.999</div>
<div class="n" style="left:669.2px;width:30px;text-align:right;top:125.68px;font-size:8.8px;line-height:8.8px;color:#f24854">3</div>
<div class="rk" style="left:498.6px;width:30px;text-align:center;top:137.47px;font-size:8.8px;line-height:8.8px">6<svg class="o1" viewBox="0 0 1139 1409" preserveAspectRatio="none"><path transform="matrix(1 0 0 -1 0 1409)" d="M478 0V1170L140 959V1180L493 1409H759V0Z" fill="currentColor"/></svg></div>
<div class="t" style="left:542.9px;top:137.37px;font-size:9px;line-height:9px;transform:scaleX(0.93);transform-origin:0 0">Djibouti</div>
<div class="t" style="left:619.1px;width:40px;text-align:right;top:137.37px;font-size:9px;line-height:9px;transform:scaleX(0.92);transform-origin:100% 0">0.925</div>
<div class="n" style="left:669.2px;width:30px;text-align:right;top:138.27px;font-size:8.8px;line-height:8.8px;color:#1f98ad">2</div>
<div class="rk" style="left:498.6px;width:30px;text-align:center;top:150.06px;font-size:8.8px;line-height:8.8px">62</div>
<div class="t" style="left:542.9px;top:149.96px;font-size:9px;line-height:9px;transform:scaleX(0.93);transform-origin:0 0">Brazil</div>
<div class="t" style="left:619.1px;width:40px;text-align:right;top:149.96px;font-size:9px;line-height:9px;transform:scaleX(0.92);transform-origin:100% 0">0.909</div>
<div class="n" style="left:669.2px;width:30px;text-align:right;top:150.86px;font-size:8.8px;line-height:8.8px;color:#1f98ad"><svg class="o1" viewBox="0 0 1139 1409" preserveAspectRatio="none"><path transform="matrix(1 0 0 -1 0 1409)" d="M515 0V1237L197 1010V1180L530 1409H696V0Z" fill="currentColor"/></svg></div>
<div class="rk" style="left:498.6px;width:30px;text-align:center;top:162.66px;font-size:8.8px;line-height:8.8px">63</div>
<div class="t" style="left:542.9px;top:162.56px;font-size:9px;line-height:9px;transform:scaleX(0.93);transform-origin:0 0">Tanzania</div>
<div class="t" style="left:619.1px;width:40px;text-align:right;top:162.56px;font-size:9px;line-height:9px;transform:scaleX(0.92);transform-origin:100% 0">0.888</div>
<div class="n" style="left:669.2px;width:30px;text-align:right;top:163.46px;font-size:8.8px;line-height:8.8px;color:#1f98ad"><svg class="o1" viewBox="0 0 1139 1409" preserveAspectRatio="none"><path transform="matrix(1 0 0 -1 0 1409)" d="M515 0V1237L197 1010V1180L530 1409H696V0Z" fill="currentColor"/></svg></div>
<div class="rk" style="left:498.6px;width:30px;text-align:center;top:175.25px;font-size:8.8px;line-height:8.8px">64</div>
<div class="t" style="left:542.9px;top:175.15px;font-size:9px;line-height:9px;transform:scaleX(0.93);transform-origin:0 0">Spain</div>
<div class="t" style="left:619.1px;width:40px;text-align:right;top:175.15px;font-size:9px;line-height:9px;transform:scaleX(0.92);transform-origin:100% 0">0.794</div>
<div class="n" style="left:669.2px;width:30px;text-align:right;top:176.05px;font-size:8.8px;line-height:8.8px;color:#f24854"><svg class="o1" viewBox="0 0 1139 1409" preserveAspectRatio="none"><path transform="matrix(1 0 0 -1 0 1409)" d="M515 0V1237L197 1010V1180L530 1409H696V0Z" fill="currentColor"/></svg></div>
<div class="rk" style="left:498.6px;width:30px;text-align:center;top:194.14px;font-size:8.8px;line-height:8.8px">65</div>
<div class="t" style="left:542.9px;top:188.84px;font-size:9px;line-height:9px;transform:scaleX(0.93);transform-origin:0 0">Bosnia and</div>
<div class="t" style="left:542.9px;top:199.24px;font-size:9px;line-height:9px;transform:scaleX(0.93);transform-origin:0 0">Herzegovina</div>
<div class="t" style="left:619.1px;width:40px;text-align:right;top:194.04px;font-size:9px;line-height:9px;transform:scaleX(0.92);transform-origin:100% 0">0.782</div>
<div class="n" style="left:669.2px;width:30px;text-align:right;top:194.94px;font-size:8.8px;line-height:8.8px;color:#f24854">2</div>
<div class="rk" style="left:498.6px;width:30px;text-align:center;top:213.03px;font-size:8.8px;line-height:8.8px">66</div>
<div class="t" style="left:542.9px;top:212.93px;font-size:9px;line-height:9px;transform:scaleX(0.93);transform-origin:0 0">Serbia</div>
<div class="t" style="left:619.1px;width:40px;text-align:right;top:212.93px;font-size:9px;line-height:9px;transform:scaleX(0.92);transform-origin:100% 0">0.782</div>
<div class="n" style="left:669.2px;width:30px;text-align:right;top:213.83px;font-size:8.8px;line-height:8.8px;color:#f24854">20</div>
<div class="rk" style="left:498.6px;width:30px;text-align:center;top:225.63px;font-size:8.8px;line-height:8.8px">67</div>
<div class="t" style="left:542.9px;top:225.53px;font-size:9px;line-height:9px;transform:scaleX(0.93);transform-origin:0 0">Switzerland</div>
<div class="t" style="left:619.1px;width:40px;text-align:right;top:225.53px;font-size:9px;line-height:9px;transform:scaleX(0.92);transform-origin:100% 0">0.749</div>
<div class="n" style="left:669.2px;width:30px;text-align:right;top:226.43px;font-size:8.8px;line-height:8.8px;color:#1f98ad">3</div>
<div class="rk" style="left:498.6px;width:30px;text-align:center;top:238.22px;font-size:8.8px;line-height:8.8px">68</div>
<div class="t" style="left:542.9px;top:238.12px;font-size:9px;line-height:9px;transform:scaleX(0.93);transform-origin:0 0">United Arab Emirates</div>
<div class="t" style="left:619.1px;width:40px;text-align:right;top:238.12px;font-size:9px;line-height:9px;transform:scaleX(0.92);transform-origin:100% 0">0.749</div>
<div class="n" style="left:669.2px;width:30px;text-align:right;top:239.02px;font-size:8.8px;line-height:8.8px;color:#f24854">2</div>
<div class="rk" style="left:498.6px;width:30px;text-align:center;top:250.82px;font-size:8.8px;line-height:8.8px">69</div>
<div class="t" style="left:542.9px;top:250.72px;font-size:9px;line-height:9px;transform:scaleX(0.93);transform-origin:0 0">Norway</div>
<div class="t" style="left:619.1px;width:40px;text-align:right;top:250.72px;font-size:9px;line-height:9px;transform:scaleX(0.92);transform-origin:100% 0">0.725</div>
<div class="n" style="left:669.2px;width:30px;text-align:right;top:251.62px;font-size:8.8px;line-height:8.8px;color:#1f98ad"><svg class="o1" viewBox="0 0 1139 1409" preserveAspectRatio="none"><path transform="matrix(1 0 0 -1 0 1409)" d="M515 0V1237L197 1010V1180L530 1409H696V0Z" fill="currentColor"/></svg></div>
<div class="rk" style="left:498.6px;width:30px;text-align:center;top:263.41px;font-size:8.8px;line-height:8.8px">70</div>
<div class="t" style="left:542.9px;top:263.31px;font-size:9px;line-height:9px;transform:scaleX(0.93);transform-origin:0 0">Denmark</div>
<div class="t" style="left:619.1px;width:40px;text-align:right;top:263.31px;font-size:9px;line-height:9px;transform:scaleX(0.92);transform-origin:100% 0">0.72</div>
<div class="n" style="left:669.2px;width:30px;text-align:right;top:264.21px;font-size:8.8px;line-height:8.8px;color:#f24854"><svg class="o1" viewBox="0 0 1139 1409" preserveAspectRatio="none"><path transform="matrix(1 0 0 -1 0 1409)" d="M515 0V1237L197 1010V1180L530 1409H696V0Z" fill="currentColor"/></svg>0</div>
<div class="rk" style="left:498.6px;width:30px;text-align:center;top:276px;font-size:8.8px;line-height:8.8px">7<svg class="o1" viewBox="0 0 1139 1409" preserveAspectRatio="none"><path transform="matrix(1 0 0 -1 0 1409)" d="M478 0V1170L140 959V1180L493 1409H759V0Z" fill="currentColor"/></svg></div>
<div class="t" style="left:542.9px;top:275.9px;font-size:9px;line-height:9px;transform:scaleX(0.93);transform-origin:0 0">Côte d’Ivoire</div>
<div class="t" style="left:619.1px;width:40px;text-align:right;top:275.9px;font-size:9px;line-height:9px;transform:scaleX(0.92);transform-origin:100% 0">0.702</div>
<div class="n" style="left:669.2px;width:30px;text-align:right;top:276.8px;font-size:8.8px;line-height:8.8px;color:#1f98ad"><svg class="o1" viewBox="0 0 1139 1409" preserveAspectRatio="none"><path transform="matrix(1 0 0 -1 0 1409)" d="M515 0V1237L197 1010V1180L530 1409H696V0Z" fill="currentColor"/></svg><svg class="o1" viewBox="0 0 1139 1409" preserveAspectRatio="none"><path transform="matrix(1 0 0 -1 0 1409)" d="M515 0V1237L197 1010V1180L530 1409H696V0Z" fill="currentColor"/></svg></div>
<div class="rk" style="left:498.6px;width:30px;text-align:center;top:288.6px;font-size:8.8px;line-height:8.8px">72</div>
<div class="t" style="left:542.9px;top:288.5px;font-size:9px;line-height:9px;transform:scaleX(0.93);transform-origin:0 0">Lebanon</div>
<div class="t" style="left:619.1px;width:40px;text-align:right;top:288.5px;font-size:9px;line-height:9px;transform:scaleX(0.92);transform-origin:100% 0">0.648</div>
<div class="n" style="left:669.2px;width:30px;text-align:right;top:289.4px;font-size:8.8px;line-height:8.8px;color:#1f98ad">6</div>
<div class="rk" style="left:498.6px;width:30px;text-align:center;top:301.19px;font-size:8.8px;line-height:8.8px">73</div>
<div class="t" style="left:542.9px;top:301.09px;font-size:9px;line-height:9px;transform:scaleX(0.93);transform-origin:0 0">Slovakia</div>
<div class="t" style="left:619.1px;width:40px;text-align:right;top:301.09px;font-size:9px;line-height:9px;transform:scaleX(0.92);transform-origin:100% 0">0.6<svg class="o1" viewBox="0 0 1139 1409" preserveAspectRatio="none"><path transform="matrix(1 0 0 -1 0 1409)" d="M515 0V1237L197 1010V1180L530 1409H696V0Z" fill="currentColor"/></svg>6</div>
<div class="n" style="left:669.2px;width:30px;text-align:right;top:301.99px;font-size:8.8px;line-height:8.8px;color:#1f98ad">2</div>
<div class="rk" style="left:498.6px;width:30px;text-align:center;top:313.79px;font-size:8.8px;line-height:8.8px">74</div>
<div class="t" style="left:542.9px;top:313.69px;font-size:9px;line-height:9px;transform:scaleX(0.93);transform-origin:0 0">Finland</div>
<div class="t" style="left:619.1px;width:40px;text-align:right;top:313.69px;font-size:9px;line-height:9px;transform:scaleX(0.92);transform-origin:100% 0">0.582</div>
<div class="n" style="left:669.2px;width:30px;text-align:right;top:314.59px;font-size:8.8px;line-height:8.8px;color:#f24854"><svg class="o1" viewBox="0 0 1139 1409" preserveAspectRatio="none"><path transform="matrix(1 0 0 -1 0 1409)" d="M515 0V1237L197 1010V1180L530 1409H696V0Z" fill="currentColor"/></svg></div>
<div class="rk" style="left:498.6px;width:30px;text-align:center;top:326.38px;font-size:8.8px;line-height:8.8px">75</div>
<div class="t" style="left:542.9px;top:326.28px;font-size:9px;line-height:9px;transform:scaleX(0.93);transform-origin:0 0">Japan</div>
<div class="t" style="left:619.1px;width:40px;text-align:right;top:326.28px;font-size:9px;line-height:9px;transform:scaleX(0.92);transform-origin:100% 0">0.57<svg class="o1" viewBox="0 0 1139 1409" preserveAspectRatio="none"><path transform="matrix(1 0 0 -1 0 1409)" d="M515 0V1237L197 1010V1180L530 1409H696V0Z" fill="currentColor"/></svg></div>
<div class="n" style="left:669.2px;width:30px;text-align:right;top:327.18px;font-size:8.8px;line-height:8.8px;color:#1f98ad">2</div>
<div class="rk" style="left:498.6px;width:30px;text-align:center;top:345.27px;font-size:8.8px;line-height:8.8px">76</div>
<div class="t" style="left:542.9px;top:339.97px;font-size:9px;line-height:9px;transform:scaleX(0.93);transform-origin:0 0">Central African</div>
<div class="t" style="left:542.9px;top:350.37px;font-size:9px;line-height:9px;transform:scaleX(0.93);transform-origin:0 0">Republic</div>
<div class="t" style="left:619.1px;width:40px;text-align:right;top:345.17px;font-size:9px;line-height:9px;transform:scaleX(0.92);transform-origin:100% 0">0.556</div>
<div class="n" style="left:669.2px;width:30px;text-align:right;top:346.07px;font-size:8.8px;line-height:8.8px;color:#1f98ad">4</div>
<div class="rk" style="left:498.6px;width:30px;text-align:center;top:364.16px;font-size:8.8px;line-height:8.8px">77</div>
<div class="t" style="left:542.9px;top:364.06px;font-size:9px;line-height:9px;transform:scaleX(0.93);transform-origin:0 0">Georgia</div>
<div class="t" style="left:619.1px;width:40px;text-align:right;top:364.06px;font-size:9px;line-height:9px;transform:scaleX(0.92);transform-origin:100% 0">0.506</div>
<div class="n" style="left:669.2px;width:30px;text-align:right;top:364.96px;font-size:8.8px;line-height:8.8px;color:#1f98ad"><svg class="o1" viewBox="0 0 1139 1409" preserveAspectRatio="none"><path transform="matrix(1 0 0 -1 0 1409)" d="M515 0V1237L197 1010V1180L530 1409H696V0Z" fill="currentColor"/></svg></div>
<div class="rk" style="left:498.6px;width:30px;text-align:center;top:376.76px;font-size:8.8px;line-height:8.8px">78</div>
<div class="t" style="left:542.9px;top:376.66px;font-size:9px;line-height:9px;transform:scaleX(0.93);transform-origin:0 0">Kosovo</div>
<div class="t" style="left:619.1px;width:40px;text-align:right;top:376.66px;font-size:9px;line-height:9px;transform:scaleX(0.92);transform-origin:100% 0">0.465</div>
<div class="n" style="left:669.2px;width:30px;text-align:right;top:377.56px;font-size:8.8px;line-height:8.8px;color:#f24854"><svg class="o1" viewBox="0 0 1139 1409" preserveAspectRatio="none"><path transform="matrix(1 0 0 -1 0 1409)" d="M515 0V1237L197 1010V1180L530 1409H696V0Z" fill="currentColor"/></svg></div>
<div class="rk" style="left:498.6px;width:30px;text-align:center;top:389.35px;font-size:8.8px;line-height:8.8px">79</div>
<div class="t" style="left:542.9px;top:389.25px;font-size:9px;line-height:9px;transform:scaleX(0.93);transform-origin:0 0">Argentina</div>
<div class="t" style="left:619.1px;width:40px;text-align:right;top:389.25px;font-size:9px;line-height:9px;transform:scaleX(0.92);transform-origin:100% 0">0.455</div>
<div class="n" style="left:669.2px;width:30px;text-align:right;top:390.15px;font-size:8.8px;line-height:8.8px;color:#1f98ad">2</div>
<div class="rk" style="left:498.6px;width:30px;text-align:center;top:401.94px;font-size:8.8px;line-height:8.8px">80</div>
<div class="t" style="left:542.9px;top:401.84px;font-size:9px;line-height:9px;transform:scaleX(0.93);transform-origin:0 0">Saudi Arabia</div>
<div class="t" style="left:619.1px;width:40px;text-align:right;top:401.84px;font-size:9px;line-height:9px;transform:scaleX(0.92);transform-origin:100% 0">0.443</div>
<div class="n" style="left:669.2px;width:30px;text-align:right;top:402.74px;font-size:8.8px;line-height:8.8px;color:#1f98ad">5</div>
<div class="fn" style="left:53px;top:454.62px;font-size:8.6px;line-height:8.6px">6</div>
<div class="ft" style="left:69.5px;top:454.79px;font-size:8.4px;line-height:8.4px;transform:scaleX(0.97);transform-origin:0 0">GLOBAL TERRORISM INDEX 2026</div>
</body></html>
